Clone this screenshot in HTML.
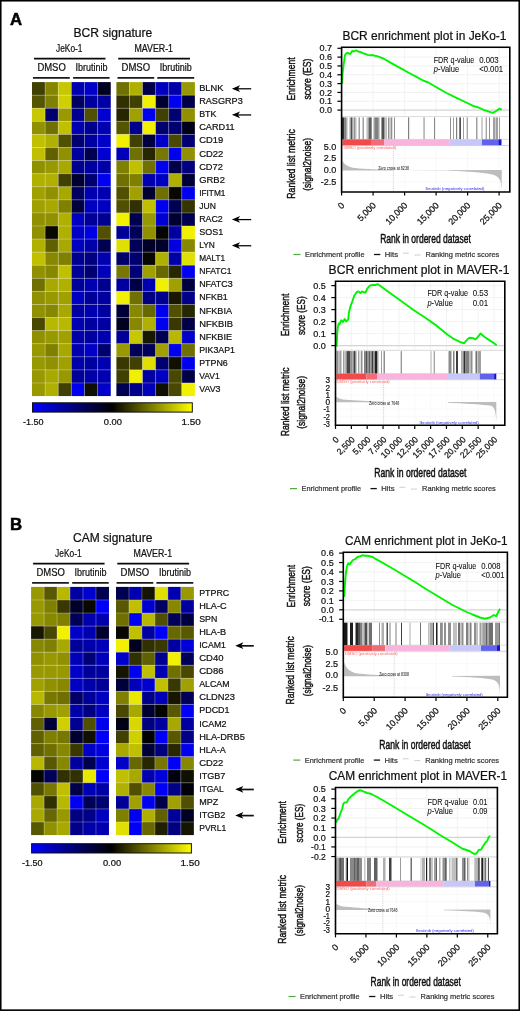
<!DOCTYPE html>
<html><head><meta charset="utf-8"><title>figure</title>
<style>html,body{margin:0;padding:0;background:#fff;width:520px;height:1011px;overflow:hidden;}text{font-family:"Liberation Sans", sans-serif;}</style>
</head><body>
<svg width="520" height="1011" viewBox="0 0 520 1011" style="display:block;will-change:transform;font-family:'Liberation Sans', sans-serif">
<rect x="0.00" y="0.00" width="520.00" height="1011.00" fill="#fff"/>
<defs><filter id="hb" x="-0.05" y="0" width="1.1" height="1" color-interpolation-filters="sRGB"><feGaussianBlur stdDeviation="0.55 0"/></filter></defs>
<text x="10.10" y="24.70" font-size="16.8" fill="#000" stroke="#000" stroke-width="0.5" font-weight="bold">A</text>
<text x="73.50" y="37.00" font-size="12" fill="#111" stroke="#111" stroke-width="0.22" textLength="78.80" lengthAdjust="spacingAndGlyphs">BCR signature</text>
<text x="56.00" y="52.10" font-size="10" fill="#111" stroke="#111" stroke-width="0.22" textLength="26.50" lengthAdjust="spacingAndGlyphs">JeKo-1</text>
<text x="134.50" y="52.10" font-size="10" fill="#111" stroke="#111" stroke-width="0.22" textLength="38.50" lengthAdjust="spacingAndGlyphs">MAVER-1</text>
<line x1="34.00" y1="58.65" x2="105.50" y2="58.65" stroke="#0a0a0a" stroke-width="1.6"/>
<line x1="118.20" y1="58.65" x2="190.00" y2="58.65" stroke="#0a0a0a" stroke-width="1.6"/>
<text x="37.40" y="71.30" font-size="10" fill="#111" stroke="#111" stroke-width="0.22" textLength="28.40" lengthAdjust="spacingAndGlyphs">DMSO</text>
<text x="75.50" y="71.30" font-size="10" fill="#111" stroke="#111" stroke-width="0.22" textLength="32.00" lengthAdjust="spacingAndGlyphs">Ibrutinib</text>
<text x="121.50" y="71.30" font-size="10" fill="#111" stroke="#111" stroke-width="0.22" textLength="28.60" lengthAdjust="spacingAndGlyphs">DMSO</text>
<text x="159.80" y="71.30" font-size="10" fill="#111" stroke="#111" stroke-width="0.22" textLength="32.00" lengthAdjust="spacingAndGlyphs">Ibrutinib</text>
<line x1="33.00" y1="77.95" x2="69.80" y2="77.95" stroke="#1a1a1a" stroke-width="1.7"/>
<line x1="73.10" y1="77.95" x2="109.60" y2="77.95" stroke="#1a1a1a" stroke-width="1.7"/>
<line x1="117.50" y1="77.95" x2="154.20" y2="77.95" stroke="#1a1a1a" stroke-width="1.7"/>
<line x1="157.30" y1="77.95" x2="194.20" y2="77.95" stroke="#1a1a1a" stroke-width="1.7"/>
<rect x="32.00" y="82.10" width="13.17" height="13.13" fill="rgb(64,64,0)"/>
<rect x="45.12" y="82.10" width="13.17" height="13.13" fill="rgb(133,133,0)"/>
<rect x="58.24" y="82.10" width="13.17" height="13.13" fill="rgb(200,200,0)"/>
<rect x="71.36" y="82.10" width="13.17" height="13.13" fill="rgb(0,0,176)"/>
<rect x="84.48" y="82.10" width="13.17" height="13.13" fill="rgb(0,0,200)"/>
<rect x="97.60" y="82.10" width="13.17" height="13.13" fill="rgb(0,0,32)"/>
<rect x="32.00" y="95.18" width="13.17" height="13.13" fill="rgb(85,85,0)"/>
<rect x="45.12" y="95.18" width="13.17" height="13.13" fill="rgb(128,128,0)"/>
<rect x="58.24" y="95.18" width="13.17" height="13.13" fill="rgb(208,208,0)"/>
<rect x="71.36" y="95.18" width="13.17" height="13.13" fill="rgb(0,0,96)"/>
<rect x="84.48" y="95.18" width="13.17" height="13.13" fill="rgb(0,0,160)"/>
<rect x="97.60" y="95.18" width="13.17" height="13.13" fill="rgb(0,0,160)"/>
<rect x="32.00" y="108.26" width="13.17" height="13.13" fill="rgb(200,200,0)"/>
<rect x="45.12" y="108.26" width="13.17" height="13.13" fill="rgb(0,0,112)"/>
<rect x="58.24" y="108.26" width="13.17" height="13.13" fill="rgb(154,154,0)"/>
<rect x="71.36" y="108.26" width="13.17" height="13.13" fill="rgb(0,0,144)"/>
<rect x="84.48" y="108.26" width="13.17" height="13.13" fill="rgb(80,80,0)"/>
<rect x="97.60" y="108.26" width="13.17" height="13.13" fill="rgb(0,0,208)"/>
<rect x="32.00" y="121.34" width="13.17" height="13.13" fill="rgb(144,144,0)"/>
<rect x="45.12" y="121.34" width="13.17" height="13.13" fill="rgb(112,112,0)"/>
<rect x="58.24" y="121.34" width="13.17" height="13.13" fill="rgb(192,192,0)"/>
<rect x="71.36" y="121.34" width="13.17" height="13.13" fill="rgb(0,0,176)"/>
<rect x="84.48" y="121.34" width="13.17" height="13.13" fill="rgb(0,0,144)"/>
<rect x="97.60" y="121.34" width="13.17" height="13.13" fill="rgb(0,0,176)"/>
<rect x="32.00" y="134.42" width="13.17" height="13.13" fill="rgb(192,192,0)"/>
<rect x="45.12" y="134.42" width="13.17" height="13.13" fill="rgb(176,176,0)"/>
<rect x="58.24" y="134.42" width="13.17" height="13.13" fill="rgb(80,80,0)"/>
<rect x="71.36" y="134.42" width="13.17" height="13.13" fill="rgb(0,0,112)"/>
<rect x="84.48" y="134.42" width="13.17" height="13.13" fill="rgb(0,0,160)"/>
<rect x="97.60" y="134.42" width="13.17" height="13.13" fill="rgb(0,0,200)"/>
<rect x="32.00" y="147.50" width="13.17" height="13.13" fill="rgb(192,192,0)"/>
<rect x="45.12" y="147.50" width="13.17" height="13.13" fill="rgb(96,96,0)"/>
<rect x="58.24" y="147.50" width="13.17" height="13.13" fill="rgb(144,144,0)"/>
<rect x="71.36" y="147.50" width="13.17" height="13.13" fill="rgb(0,0,160)"/>
<rect x="84.48" y="147.50" width="13.17" height="13.13" fill="rgb(0,0,80)"/>
<rect x="97.60" y="147.50" width="13.17" height="13.13" fill="rgb(0,0,208)"/>
<rect x="32.00" y="160.58" width="13.17" height="13.13" fill="rgb(144,144,0)"/>
<rect x="45.12" y="160.58" width="13.17" height="13.13" fill="rgb(152,152,0)"/>
<rect x="58.24" y="160.58" width="13.17" height="13.13" fill="rgb(168,168,0)"/>
<rect x="71.36" y="160.58" width="13.17" height="13.13" fill="rgb(0,0,144)"/>
<rect x="84.48" y="160.58" width="13.17" height="13.13" fill="rgb(0,0,160)"/>
<rect x="97.60" y="160.58" width="13.17" height="13.13" fill="rgb(0,0,168)"/>
<rect x="32.00" y="173.66" width="13.17" height="13.13" fill="rgb(176,176,0)"/>
<rect x="45.12" y="173.66" width="13.17" height="13.13" fill="rgb(176,176,0)"/>
<rect x="58.24" y="173.66" width="13.17" height="13.13" fill="rgb(64,64,0)"/>
<rect x="71.36" y="173.66" width="13.17" height="13.13" fill="rgb(0,0,48)"/>
<rect x="84.48" y="173.66" width="13.17" height="13.13" fill="rgb(0,0,112)"/>
<rect x="97.60" y="173.66" width="13.17" height="13.13" fill="rgb(0,0,240)"/>
<rect x="32.00" y="186.74" width="13.17" height="13.13" fill="rgb(160,160,0)"/>
<rect x="45.12" y="186.74" width="13.17" height="13.13" fill="rgb(144,144,0)"/>
<rect x="58.24" y="186.74" width="13.17" height="13.13" fill="rgb(168,168,0)"/>
<rect x="71.36" y="186.74" width="13.17" height="13.13" fill="rgb(0,0,96)"/>
<rect x="84.48" y="186.74" width="13.17" height="13.13" fill="rgb(0,0,176)"/>
<rect x="97.60" y="186.74" width="13.17" height="13.13" fill="rgb(0,0,176)"/>
<rect x="32.00" y="199.82" width="13.17" height="13.13" fill="rgb(160,160,0)"/>
<rect x="45.12" y="199.82" width="13.17" height="13.13" fill="rgb(168,168,0)"/>
<rect x="58.24" y="199.82" width="13.17" height="13.13" fill="rgb(128,128,0)"/>
<rect x="71.36" y="199.82" width="13.17" height="13.13" fill="rgb(0,0,64)"/>
<rect x="84.48" y="199.82" width="13.17" height="13.13" fill="rgb(0,0,192)"/>
<rect x="97.60" y="199.82" width="13.17" height="13.13" fill="rgb(0,0,192)"/>
<rect x="32.00" y="212.90" width="13.17" height="13.13" fill="rgb(144,144,0)"/>
<rect x="45.12" y="212.90" width="13.17" height="13.13" fill="rgb(144,144,0)"/>
<rect x="58.24" y="212.90" width="13.17" height="13.13" fill="rgb(176,176,0)"/>
<rect x="71.36" y="212.90" width="13.17" height="13.13" fill="rgb(0,0,192)"/>
<rect x="84.48" y="212.90" width="13.17" height="13.13" fill="rgb(0,0,152)"/>
<rect x="97.60" y="212.90" width="13.17" height="13.13" fill="rgb(0,0,144)"/>
<rect x="32.00" y="225.98" width="13.17" height="13.13" fill="rgb(144,144,0)"/>
<rect x="45.12" y="225.98" width="13.17" height="13.13" fill="rgb(8,8,0)"/>
<rect x="58.24" y="225.98" width="13.17" height="13.13" fill="rgb(176,176,0)"/>
<rect x="71.36" y="225.98" width="13.17" height="13.13" fill="rgb(0,0,200)"/>
<rect x="84.48" y="225.98" width="13.17" height="13.13" fill="rgb(0,0,224)"/>
<rect x="97.60" y="225.98" width="13.17" height="13.13" fill="rgb(80,80,0)"/>
<rect x="32.00" y="239.06" width="13.17" height="13.13" fill="rgb(176,176,0)"/>
<rect x="45.12" y="239.06" width="13.17" height="13.13" fill="rgb(96,96,0)"/>
<rect x="58.24" y="239.06" width="13.17" height="13.13" fill="rgb(168,168,0)"/>
<rect x="71.36" y="239.06" width="13.17" height="13.13" fill="rgb(0,0,192)"/>
<rect x="84.48" y="239.06" width="13.17" height="13.13" fill="rgb(0,0,168)"/>
<rect x="97.60" y="239.06" width="13.17" height="13.13" fill="rgb(0,0,80)"/>
<rect x="32.00" y="252.14" width="13.17" height="13.13" fill="rgb(192,192,0)"/>
<rect x="45.12" y="252.14" width="13.17" height="13.13" fill="rgb(136,136,0)"/>
<rect x="58.24" y="252.14" width="13.17" height="13.13" fill="rgb(128,128,0)"/>
<rect x="71.36" y="252.14" width="13.17" height="13.13" fill="rgb(0,0,144)"/>
<rect x="84.48" y="252.14" width="13.17" height="13.13" fill="rgb(0,0,128)"/>
<rect x="97.60" y="252.14" width="13.17" height="13.13" fill="rgb(0,0,176)"/>
<rect x="32.00" y="265.22" width="13.17" height="13.13" fill="rgb(144,144,0)"/>
<rect x="45.12" y="265.22" width="13.17" height="13.13" fill="rgb(136,136,0)"/>
<rect x="58.24" y="265.22" width="13.17" height="13.13" fill="rgb(192,192,0)"/>
<rect x="71.36" y="265.22" width="13.17" height="13.13" fill="rgb(0,0,152)"/>
<rect x="84.48" y="265.22" width="13.17" height="13.13" fill="rgb(0,0,112)"/>
<rect x="97.60" y="265.22" width="13.17" height="13.13" fill="rgb(0,0,184)"/>
<rect x="32.00" y="278.30" width="13.17" height="13.13" fill="rgb(112,112,0)"/>
<rect x="45.12" y="278.30" width="13.17" height="13.13" fill="rgb(168,168,0)"/>
<rect x="58.24" y="278.30" width="13.17" height="13.13" fill="rgb(176,176,0)"/>
<rect x="71.36" y="278.30" width="13.17" height="13.13" fill="rgb(0,0,152)"/>
<rect x="84.48" y="278.30" width="13.17" height="13.13" fill="rgb(0,0,176)"/>
<rect x="97.60" y="278.30" width="13.17" height="13.13" fill="rgb(0,0,144)"/>
<rect x="32.00" y="291.38" width="13.17" height="13.13" fill="rgb(144,144,0)"/>
<rect x="45.12" y="291.38" width="13.17" height="13.13" fill="rgb(152,152,0)"/>
<rect x="58.24" y="291.38" width="13.17" height="13.13" fill="rgb(160,160,0)"/>
<rect x="71.36" y="291.38" width="13.17" height="13.13" fill="rgb(0,0,192)"/>
<rect x="84.48" y="291.38" width="13.17" height="13.13" fill="rgb(0,0,152)"/>
<rect x="97.60" y="291.38" width="13.17" height="13.13" fill="rgb(0,0,160)"/>
<rect x="32.00" y="304.46" width="13.17" height="13.13" fill="rgb(144,144,0)"/>
<rect x="45.12" y="304.46" width="13.17" height="13.13" fill="rgb(136,136,0)"/>
<rect x="58.24" y="304.46" width="13.17" height="13.13" fill="rgb(168,168,0)"/>
<rect x="71.36" y="304.46" width="13.17" height="13.13" fill="rgb(0,0,160)"/>
<rect x="84.48" y="304.46" width="13.17" height="13.13" fill="rgb(0,0,176)"/>
<rect x="97.60" y="304.46" width="13.17" height="13.13" fill="rgb(0,0,160)"/>
<rect x="32.00" y="317.54" width="13.17" height="13.13" fill="rgb(72,72,0)"/>
<rect x="45.12" y="317.54" width="13.17" height="13.13" fill="rgb(184,184,0)"/>
<rect x="58.24" y="317.54" width="13.17" height="13.13" fill="rgb(184,184,0)"/>
<rect x="71.36" y="317.54" width="13.17" height="13.13" fill="rgb(0,0,176)"/>
<rect x="84.48" y="317.54" width="13.17" height="13.13" fill="rgb(0,0,160)"/>
<rect x="97.60" y="317.54" width="13.17" height="13.13" fill="rgb(0,0,160)"/>
<rect x="32.00" y="330.62" width="13.17" height="13.13" fill="rgb(144,144,0)"/>
<rect x="45.12" y="330.62" width="13.17" height="13.13" fill="rgb(152,152,0)"/>
<rect x="58.24" y="330.62" width="13.17" height="13.13" fill="rgb(160,160,0)"/>
<rect x="71.36" y="330.62" width="13.17" height="13.13" fill="rgb(0,0,168)"/>
<rect x="84.48" y="330.62" width="13.17" height="13.13" fill="rgb(0,0,160)"/>
<rect x="97.60" y="330.62" width="13.17" height="13.13" fill="rgb(0,0,176)"/>
<rect x="32.00" y="343.70" width="13.17" height="13.13" fill="rgb(152,152,0)"/>
<rect x="45.12" y="343.70" width="13.17" height="13.13" fill="rgb(128,128,0)"/>
<rect x="58.24" y="343.70" width="13.17" height="13.13" fill="rgb(168,168,0)"/>
<rect x="71.36" y="343.70" width="13.17" height="13.13" fill="rgb(0,0,176)"/>
<rect x="84.48" y="343.70" width="13.17" height="13.13" fill="rgb(0,0,200)"/>
<rect x="97.60" y="343.70" width="13.17" height="13.13" fill="rgb(0,0,112)"/>
<rect x="32.00" y="356.78" width="13.17" height="13.13" fill="rgb(152,152,0)"/>
<rect x="45.12" y="356.78" width="13.17" height="13.13" fill="rgb(144,144,0)"/>
<rect x="58.24" y="356.78" width="13.17" height="13.13" fill="rgb(160,160,0)"/>
<rect x="71.36" y="356.78" width="13.17" height="13.13" fill="rgb(0,0,168)"/>
<rect x="84.48" y="356.78" width="13.17" height="13.13" fill="rgb(0,0,160)"/>
<rect x="97.60" y="356.78" width="13.17" height="13.13" fill="rgb(0,0,176)"/>
<rect x="32.00" y="369.86" width="13.17" height="13.13" fill="rgb(152,152,0)"/>
<rect x="45.12" y="369.86" width="13.17" height="13.13" fill="rgb(168,168,0)"/>
<rect x="58.24" y="369.86" width="13.17" height="13.13" fill="rgb(152,152,0)"/>
<rect x="71.36" y="369.86" width="13.17" height="13.13" fill="rgb(0,0,152)"/>
<rect x="84.48" y="369.86" width="13.17" height="13.13" fill="rgb(0,0,168)"/>
<rect x="97.60" y="369.86" width="13.17" height="13.13" fill="rgb(0,0,176)"/>
<rect x="32.00" y="382.94" width="13.17" height="13.13" fill="rgb(152,152,0)"/>
<rect x="45.12" y="382.94" width="13.17" height="13.13" fill="rgb(176,176,0)"/>
<rect x="58.24" y="382.94" width="13.17" height="13.13" fill="rgb(64,64,0)"/>
<rect x="71.36" y="382.94" width="13.17" height="13.13" fill="rgb(0,0,240)"/>
<rect x="84.48" y="382.94" width="13.17" height="13.13" fill="rgb(16,16,0)"/>
<rect x="97.60" y="382.94" width="13.17" height="13.13" fill="rgb(0,0,200)"/>
<line x1="45.12" y1="82.10" x2="45.12" y2="396.02" stroke="rgba(255,255,255,0.35)" stroke-width="0.8"/>
<line x1="58.24" y1="82.10" x2="58.24" y2="396.02" stroke="rgba(255,255,255,0.35)" stroke-width="0.8"/>
<line x1="71.36" y1="82.10" x2="71.36" y2="396.02" stroke="rgba(255,255,255,0.35)" stroke-width="0.8"/>
<line x1="84.48" y1="82.10" x2="84.48" y2="396.02" stroke="rgba(255,255,255,0.35)" stroke-width="0.8"/>
<line x1="97.60" y1="82.10" x2="97.60" y2="396.02" stroke="rgba(255,255,255,0.35)" stroke-width="0.8"/>
<line x1="32.00" y1="95.18" x2="110.72" y2="95.18" stroke="rgba(255,255,255,0.35)" stroke-width="0.8"/>
<line x1="32.00" y1="108.26" x2="110.72" y2="108.26" stroke="rgba(255,255,255,0.35)" stroke-width="0.8"/>
<line x1="32.00" y1="121.34" x2="110.72" y2="121.34" stroke="rgba(255,255,255,0.35)" stroke-width="0.8"/>
<line x1="32.00" y1="134.42" x2="110.72" y2="134.42" stroke="rgba(255,255,255,0.35)" stroke-width="0.8"/>
<line x1="32.00" y1="147.50" x2="110.72" y2="147.50" stroke="rgba(255,255,255,0.35)" stroke-width="0.8"/>
<line x1="32.00" y1="160.58" x2="110.72" y2="160.58" stroke="rgba(255,255,255,0.35)" stroke-width="0.8"/>
<line x1="32.00" y1="173.66" x2="110.72" y2="173.66" stroke="rgba(255,255,255,0.35)" stroke-width="0.8"/>
<line x1="32.00" y1="186.74" x2="110.72" y2="186.74" stroke="rgba(255,255,255,0.35)" stroke-width="0.8"/>
<line x1="32.00" y1="199.82" x2="110.72" y2="199.82" stroke="rgba(255,255,255,0.35)" stroke-width="0.8"/>
<line x1="32.00" y1="212.90" x2="110.72" y2="212.90" stroke="rgba(255,255,255,0.35)" stroke-width="0.8"/>
<line x1="32.00" y1="225.98" x2="110.72" y2="225.98" stroke="rgba(255,255,255,0.35)" stroke-width="0.8"/>
<line x1="32.00" y1="239.06" x2="110.72" y2="239.06" stroke="rgba(255,255,255,0.35)" stroke-width="0.8"/>
<line x1="32.00" y1="252.14" x2="110.72" y2="252.14" stroke="rgba(255,255,255,0.35)" stroke-width="0.8"/>
<line x1="32.00" y1="265.22" x2="110.72" y2="265.22" stroke="rgba(255,255,255,0.35)" stroke-width="0.8"/>
<line x1="32.00" y1="278.30" x2="110.72" y2="278.30" stroke="rgba(255,255,255,0.35)" stroke-width="0.8"/>
<line x1="32.00" y1="291.38" x2="110.72" y2="291.38" stroke="rgba(255,255,255,0.35)" stroke-width="0.8"/>
<line x1="32.00" y1="304.46" x2="110.72" y2="304.46" stroke="rgba(255,255,255,0.35)" stroke-width="0.8"/>
<line x1="32.00" y1="317.54" x2="110.72" y2="317.54" stroke="rgba(255,255,255,0.35)" stroke-width="0.8"/>
<line x1="32.00" y1="330.62" x2="110.72" y2="330.62" stroke="rgba(255,255,255,0.35)" stroke-width="0.8"/>
<line x1="32.00" y1="343.70" x2="110.72" y2="343.70" stroke="rgba(255,255,255,0.35)" stroke-width="0.8"/>
<line x1="32.00" y1="356.78" x2="110.72" y2="356.78" stroke="rgba(255,255,255,0.35)" stroke-width="0.8"/>
<line x1="32.00" y1="369.86" x2="110.72" y2="369.86" stroke="rgba(255,255,255,0.35)" stroke-width="0.8"/>
<line x1="32.00" y1="382.94" x2="110.72" y2="382.94" stroke="rgba(255,255,255,0.35)" stroke-width="0.8"/>
<rect x="116.40" y="82.10" width="13.12" height="13.13" fill="rgb(112,112,0)"/>
<rect x="129.47" y="82.10" width="13.12" height="13.13" fill="rgb(176,176,0)"/>
<rect x="142.54" y="82.10" width="13.12" height="13.13" fill="rgb(0,0,72)"/>
<rect x="155.61" y="82.10" width="13.12" height="13.13" fill="rgb(0,0,192)"/>
<rect x="168.68" y="82.10" width="13.12" height="13.13" fill="rgb(0,0,168)"/>
<rect x="181.75" y="82.10" width="13.12" height="13.13" fill="rgb(152,152,0)"/>
<rect x="116.40" y="95.18" width="13.12" height="13.13" fill="rgb(48,48,0)"/>
<rect x="129.47" y="95.18" width="13.12" height="13.13" fill="rgb(64,64,0)"/>
<rect x="142.54" y="95.18" width="13.12" height="13.13" fill="rgb(240,240,0)"/>
<rect x="155.61" y="95.18" width="13.12" height="13.13" fill="rgb(0,0,48)"/>
<rect x="168.68" y="95.18" width="13.12" height="13.13" fill="rgb(0,0,240)"/>
<rect x="181.75" y="95.18" width="13.12" height="13.13" fill="rgb(0,0,72)"/>
<rect x="116.40" y="108.26" width="13.12" height="13.13" fill="rgb(37,37,0)"/>
<rect x="129.47" y="108.26" width="13.12" height="13.13" fill="rgb(160,160,0)"/>
<rect x="142.54" y="108.26" width="13.12" height="13.13" fill="rgb(0,0,240)"/>
<rect x="155.61" y="108.26" width="13.12" height="13.13" fill="rgb(64,64,0)"/>
<rect x="168.68" y="108.26" width="13.12" height="13.13" fill="rgb(0,0,112)"/>
<rect x="181.75" y="108.26" width="13.12" height="13.13" fill="rgb(144,144,0)"/>
<rect x="116.40" y="121.34" width="13.12" height="13.13" fill="rgb(85,85,0)"/>
<rect x="129.47" y="121.34" width="13.12" height="13.13" fill="rgb(0,0,144)"/>
<rect x="142.54" y="121.34" width="13.12" height="13.13" fill="rgb(240,240,0)"/>
<rect x="155.61" y="121.34" width="13.12" height="13.13" fill="rgb(0,0,112)"/>
<rect x="168.68" y="121.34" width="13.12" height="13.13" fill="rgb(0,0,112)"/>
<rect x="181.75" y="121.34" width="13.12" height="13.13" fill="rgb(0,0,24)"/>
<rect x="116.40" y="134.42" width="13.12" height="13.13" fill="rgb(240,240,0)"/>
<rect x="129.47" y="134.42" width="13.12" height="13.13" fill="rgb(64,64,0)"/>
<rect x="142.54" y="134.42" width="13.12" height="13.13" fill="rgb(0,0,64)"/>
<rect x="155.61" y="134.42" width="13.12" height="13.13" fill="rgb(0,0,200)"/>
<rect x="168.68" y="134.42" width="13.12" height="13.13" fill="rgb(72,72,0)"/>
<rect x="181.75" y="134.42" width="13.12" height="13.13" fill="rgb(0,0,112)"/>
<rect x="116.40" y="147.50" width="13.12" height="13.13" fill="rgb(0,0,184)"/>
<rect x="129.47" y="147.50" width="13.12" height="13.13" fill="rgb(112,112,0)"/>
<rect x="142.54" y="147.50" width="13.12" height="13.13" fill="rgb(40,40,0)"/>
<rect x="155.61" y="147.50" width="13.12" height="13.13" fill="rgb(120,120,0)"/>
<rect x="168.68" y="147.50" width="13.12" height="13.13" fill="rgb(0,0,240)"/>
<rect x="181.75" y="147.50" width="13.12" height="13.13" fill="rgb(144,144,0)"/>
<rect x="116.40" y="160.58" width="13.12" height="13.13" fill="rgb(128,128,0)"/>
<rect x="129.47" y="160.58" width="13.12" height="13.13" fill="rgb(192,192,0)"/>
<rect x="142.54" y="160.58" width="13.12" height="13.13" fill="rgb(112,112,0)"/>
<rect x="155.61" y="160.58" width="13.12" height="13.13" fill="rgb(0,0,240)"/>
<rect x="168.68" y="160.58" width="13.12" height="13.13" fill="rgb(0,0,72)"/>
<rect x="181.75" y="160.58" width="13.12" height="13.13" fill="rgb(0,0,128)"/>
<rect x="116.40" y="173.66" width="13.12" height="13.13" fill="rgb(112,112,0)"/>
<rect x="129.47" y="173.66" width="13.12" height="13.13" fill="rgb(128,128,0)"/>
<rect x="142.54" y="173.66" width="13.12" height="13.13" fill="rgb(0,0,176)"/>
<rect x="155.61" y="173.66" width="13.12" height="13.13" fill="rgb(0,0,192)"/>
<rect x="168.68" y="173.66" width="13.12" height="13.13" fill="rgb(176,176,0)"/>
<rect x="181.75" y="173.66" width="13.12" height="13.13" fill="rgb(0,0,56)"/>
<rect x="116.40" y="186.74" width="13.12" height="13.13" fill="rgb(80,80,0)"/>
<rect x="129.47" y="186.74" width="13.12" height="13.13" fill="rgb(160,160,0)"/>
<rect x="142.54" y="186.74" width="13.12" height="13.13" fill="rgb(0,0,48)"/>
<rect x="155.61" y="186.74" width="13.12" height="13.13" fill="rgb(112,112,0)"/>
<rect x="168.68" y="186.74" width="13.12" height="13.13" fill="rgb(8,8,0)"/>
<rect x="181.75" y="186.74" width="13.12" height="13.13" fill="rgb(0,0,240)"/>
<rect x="116.40" y="199.82" width="13.12" height="13.13" fill="rgb(80,80,0)"/>
<rect x="129.47" y="199.82" width="13.12" height="13.13" fill="rgb(48,48,0)"/>
<rect x="142.54" y="199.82" width="13.12" height="13.13" fill="rgb(192,192,0)"/>
<rect x="155.61" y="199.82" width="13.12" height="13.13" fill="rgb(0,0,240)"/>
<rect x="168.68" y="199.82" width="13.12" height="13.13" fill="rgb(0,0,80)"/>
<rect x="181.75" y="199.82" width="13.12" height="13.13" fill="rgb(53,53,0)"/>
<rect x="116.40" y="212.90" width="13.12" height="13.13" fill="rgb(240,240,0)"/>
<rect x="129.47" y="212.90" width="13.12" height="13.13" fill="rgb(0,0,80)"/>
<rect x="142.54" y="212.90" width="13.12" height="13.13" fill="rgb(152,152,0)"/>
<rect x="155.61" y="212.90" width="13.12" height="13.13" fill="rgb(0,0,208)"/>
<rect x="168.68" y="212.90" width="13.12" height="13.13" fill="rgb(0,0,48)"/>
<rect x="181.75" y="212.90" width="13.12" height="13.13" fill="rgb(0,0,80)"/>
<rect x="116.40" y="225.98" width="13.12" height="13.13" fill="rgb(0,0,152)"/>
<rect x="129.47" y="225.98" width="13.12" height="13.13" fill="rgb(0,0,88)"/>
<rect x="142.54" y="225.98" width="13.12" height="13.13" fill="rgb(144,144,0)"/>
<rect x="155.61" y="225.98" width="13.12" height="13.13" fill="rgb(5,5,0)"/>
<rect x="168.68" y="225.98" width="13.12" height="13.13" fill="rgb(0,0,160)"/>
<rect x="181.75" y="225.98" width="13.12" height="13.13" fill="rgb(240,240,0)"/>
<rect x="116.40" y="239.06" width="13.12" height="13.13" fill="rgb(224,224,0)"/>
<rect x="129.47" y="239.06" width="13.12" height="13.13" fill="rgb(0,0,88)"/>
<rect x="142.54" y="239.06" width="13.12" height="13.13" fill="rgb(0,0,40)"/>
<rect x="155.61" y="239.06" width="13.12" height="13.13" fill="rgb(0,0,40)"/>
<rect x="168.68" y="239.06" width="13.12" height="13.13" fill="rgb(0,0,224)"/>
<rect x="181.75" y="239.06" width="13.12" height="13.13" fill="rgb(136,136,0)"/>
<rect x="116.40" y="252.14" width="13.12" height="13.13" fill="rgb(0,0,104)"/>
<rect x="129.47" y="252.14" width="13.12" height="13.13" fill="rgb(0,0,112)"/>
<rect x="142.54" y="252.14" width="13.12" height="13.13" fill="rgb(8,8,0)"/>
<rect x="155.61" y="252.14" width="13.12" height="13.13" fill="rgb(176,176,0)"/>
<rect x="168.68" y="252.14" width="13.12" height="13.13" fill="rgb(0,0,168)"/>
<rect x="181.75" y="252.14" width="13.12" height="13.13" fill="rgb(224,224,0)"/>
<rect x="116.40" y="265.22" width="13.12" height="13.13" fill="rgb(120,120,0)"/>
<rect x="129.47" y="265.22" width="13.12" height="13.13" fill="rgb(0,0,120)"/>
<rect x="142.54" y="265.22" width="13.12" height="13.13" fill="rgb(160,160,0)"/>
<rect x="155.61" y="265.22" width="13.12" height="13.13" fill="rgb(104,104,0)"/>
<rect x="168.68" y="265.22" width="13.12" height="13.13" fill="rgb(40,40,0)"/>
<rect x="181.75" y="265.22" width="13.12" height="13.13" fill="rgb(0,0,240)"/>
<rect x="116.40" y="278.30" width="13.12" height="13.13" fill="rgb(0,0,160)"/>
<rect x="129.47" y="278.30" width="13.12" height="13.13" fill="rgb(0,0,72)"/>
<rect x="142.54" y="278.30" width="13.12" height="13.13" fill="rgb(0,0,176)"/>
<rect x="155.61" y="278.30" width="13.12" height="13.13" fill="rgb(240,240,0)"/>
<rect x="168.68" y="278.30" width="13.12" height="13.13" fill="rgb(160,160,0)"/>
<rect x="181.75" y="278.30" width="13.12" height="13.13" fill="rgb(0,0,64)"/>
<rect x="116.40" y="291.38" width="13.12" height="13.13" fill="rgb(240,240,0)"/>
<rect x="129.47" y="291.38" width="13.12" height="13.13" fill="rgb(112,112,0)"/>
<rect x="142.54" y="291.38" width="13.12" height="13.13" fill="rgb(0,0,128)"/>
<rect x="155.61" y="291.38" width="13.12" height="13.13" fill="rgb(0,0,144)"/>
<rect x="168.68" y="291.38" width="13.12" height="13.13" fill="rgb(24,24,0)"/>
<rect x="181.75" y="291.38" width="13.12" height="13.13" fill="rgb(0,0,136)"/>
<rect x="116.40" y="304.46" width="13.12" height="13.13" fill="rgb(0,0,56)"/>
<rect x="129.47" y="304.46" width="13.12" height="13.13" fill="rgb(136,136,0)"/>
<rect x="142.54" y="304.46" width="13.12" height="13.13" fill="rgb(104,104,0)"/>
<rect x="155.61" y="304.46" width="13.12" height="13.13" fill="rgb(0,0,240)"/>
<rect x="168.68" y="304.46" width="13.12" height="13.13" fill="rgb(80,80,0)"/>
<rect x="181.75" y="304.46" width="13.12" height="13.13" fill="rgb(40,40,0)"/>
<rect x="116.40" y="317.54" width="13.12" height="13.13" fill="rgb(0,0,32)"/>
<rect x="129.47" y="317.54" width="13.12" height="13.13" fill="rgb(136,136,0)"/>
<rect x="142.54" y="317.54" width="13.12" height="13.13" fill="rgb(176,176,0)"/>
<rect x="155.61" y="317.54" width="13.12" height="13.13" fill="rgb(0,0,240)"/>
<rect x="168.68" y="317.54" width="13.12" height="13.13" fill="rgb(56,56,0)"/>
<rect x="181.75" y="317.54" width="13.12" height="13.13" fill="rgb(0,0,72)"/>
<rect x="116.40" y="330.62" width="13.12" height="13.13" fill="rgb(0,0,152)"/>
<rect x="129.47" y="330.62" width="13.12" height="13.13" fill="rgb(200,200,0)"/>
<rect x="142.54" y="330.62" width="13.12" height="13.13" fill="rgb(24,24,0)"/>
<rect x="155.61" y="330.62" width="13.12" height="13.13" fill="rgb(0,0,80)"/>
<rect x="168.68" y="330.62" width="13.12" height="13.13" fill="rgb(184,184,0)"/>
<rect x="181.75" y="330.62" width="13.12" height="13.13" fill="rgb(0,0,200)"/>
<rect x="116.40" y="343.70" width="13.12" height="13.13" fill="rgb(152,152,0)"/>
<rect x="129.47" y="343.70" width="13.12" height="13.13" fill="rgb(0,0,88)"/>
<rect x="142.54" y="343.70" width="13.12" height="13.13" fill="rgb(0,0,88)"/>
<rect x="155.61" y="343.70" width="13.12" height="13.13" fill="rgb(160,160,0)"/>
<rect x="168.68" y="343.70" width="13.12" height="13.13" fill="rgb(0,0,240)"/>
<rect x="181.75" y="343.70" width="13.12" height="13.13" fill="rgb(112,112,0)"/>
<rect x="116.40" y="356.78" width="13.12" height="13.13" fill="rgb(56,56,0)"/>
<rect x="129.47" y="356.78" width="13.12" height="13.13" fill="rgb(64,64,0)"/>
<rect x="142.54" y="356.78" width="13.12" height="13.13" fill="rgb(224,224,0)"/>
<rect x="155.61" y="356.78" width="13.12" height="13.13" fill="rgb(0,0,112)"/>
<rect x="168.68" y="356.78" width="13.12" height="13.13" fill="rgb(16,16,0)"/>
<rect x="181.75" y="356.78" width="13.12" height="13.13" fill="rgb(0,0,240)"/>
<rect x="116.40" y="369.86" width="13.12" height="13.13" fill="rgb(64,64,0)"/>
<rect x="129.47" y="369.86" width="13.12" height="13.13" fill="rgb(240,240,0)"/>
<rect x="142.54" y="369.86" width="13.12" height="13.13" fill="rgb(0,0,160)"/>
<rect x="155.61" y="369.86" width="13.12" height="13.13" fill="rgb(0,0,192)"/>
<rect x="168.68" y="369.86" width="13.12" height="13.13" fill="rgb(72,72,0)"/>
<rect x="181.75" y="369.86" width="13.12" height="13.13" fill="rgb(0,0,72)"/>
<rect x="116.40" y="382.94" width="13.12" height="13.13" fill="rgb(0,0,80)"/>
<rect x="129.47" y="382.94" width="13.12" height="13.13" fill="rgb(0,0,136)"/>
<rect x="142.54" y="382.94" width="13.12" height="13.13" fill="rgb(0,0,184)"/>
<rect x="155.61" y="382.94" width="13.12" height="13.13" fill="rgb(16,16,0)"/>
<rect x="168.68" y="382.94" width="13.12" height="13.13" fill="rgb(72,72,0)"/>
<rect x="181.75" y="382.94" width="13.12" height="13.13" fill="rgb(240,240,0)"/>
<line x1="129.47" y1="82.10" x2="129.47" y2="396.02" stroke="rgba(255,255,255,0.35)" stroke-width="0.8"/>
<line x1="142.54" y1="82.10" x2="142.54" y2="396.02" stroke="rgba(255,255,255,0.35)" stroke-width="0.8"/>
<line x1="155.61" y1="82.10" x2="155.61" y2="396.02" stroke="rgba(255,255,255,0.35)" stroke-width="0.8"/>
<line x1="168.68" y1="82.10" x2="168.68" y2="396.02" stroke="rgba(255,255,255,0.35)" stroke-width="0.8"/>
<line x1="181.75" y1="82.10" x2="181.75" y2="396.02" stroke="rgba(255,255,255,0.35)" stroke-width="0.8"/>
<line x1="116.40" y1="95.18" x2="194.82" y2="95.18" stroke="rgba(255,255,255,0.35)" stroke-width="0.8"/>
<line x1="116.40" y1="108.26" x2="194.82" y2="108.26" stroke="rgba(255,255,255,0.35)" stroke-width="0.8"/>
<line x1="116.40" y1="121.34" x2="194.82" y2="121.34" stroke="rgba(255,255,255,0.35)" stroke-width="0.8"/>
<line x1="116.40" y1="134.42" x2="194.82" y2="134.42" stroke="rgba(255,255,255,0.35)" stroke-width="0.8"/>
<line x1="116.40" y1="147.50" x2="194.82" y2="147.50" stroke="rgba(255,255,255,0.35)" stroke-width="0.8"/>
<line x1="116.40" y1="160.58" x2="194.82" y2="160.58" stroke="rgba(255,255,255,0.35)" stroke-width="0.8"/>
<line x1="116.40" y1="173.66" x2="194.82" y2="173.66" stroke="rgba(255,255,255,0.35)" stroke-width="0.8"/>
<line x1="116.40" y1="186.74" x2="194.82" y2="186.74" stroke="rgba(255,255,255,0.35)" stroke-width="0.8"/>
<line x1="116.40" y1="199.82" x2="194.82" y2="199.82" stroke="rgba(255,255,255,0.35)" stroke-width="0.8"/>
<line x1="116.40" y1="212.90" x2="194.82" y2="212.90" stroke="rgba(255,255,255,0.35)" stroke-width="0.8"/>
<line x1="116.40" y1="225.98" x2="194.82" y2="225.98" stroke="rgba(255,255,255,0.35)" stroke-width="0.8"/>
<line x1="116.40" y1="239.06" x2="194.82" y2="239.06" stroke="rgba(255,255,255,0.35)" stroke-width="0.8"/>
<line x1="116.40" y1="252.14" x2="194.82" y2="252.14" stroke="rgba(255,255,255,0.35)" stroke-width="0.8"/>
<line x1="116.40" y1="265.22" x2="194.82" y2="265.22" stroke="rgba(255,255,255,0.35)" stroke-width="0.8"/>
<line x1="116.40" y1="278.30" x2="194.82" y2="278.30" stroke="rgba(255,255,255,0.35)" stroke-width="0.8"/>
<line x1="116.40" y1="291.38" x2="194.82" y2="291.38" stroke="rgba(255,255,255,0.35)" stroke-width="0.8"/>
<line x1="116.40" y1="304.46" x2="194.82" y2="304.46" stroke="rgba(255,255,255,0.35)" stroke-width="0.8"/>
<line x1="116.40" y1="317.54" x2="194.82" y2="317.54" stroke="rgba(255,255,255,0.35)" stroke-width="0.8"/>
<line x1="116.40" y1="330.62" x2="194.82" y2="330.62" stroke="rgba(255,255,255,0.35)" stroke-width="0.8"/>
<line x1="116.40" y1="343.70" x2="194.82" y2="343.70" stroke="rgba(255,255,255,0.35)" stroke-width="0.8"/>
<line x1="116.40" y1="356.78" x2="194.82" y2="356.78" stroke="rgba(255,255,255,0.35)" stroke-width="0.8"/>
<line x1="116.40" y1="369.86" x2="194.82" y2="369.86" stroke="rgba(255,255,255,0.35)" stroke-width="0.8"/>
<line x1="116.40" y1="382.94" x2="194.82" y2="382.94" stroke="rgba(255,255,255,0.35)" stroke-width="0.8"/>
<text x="199.20" y="91.14" font-size="9.6" fill="#111" stroke="#111" stroke-width="0.22" textLength="24.20" lengthAdjust="spacingAndGlyphs">BLNK</text>
<line x1="234.90" y1="88.79" x2="251.20" y2="88.79" stroke="#000" stroke-width="1.25"/>
<path d="M231.90,88.64 L240.10,85.24 L237.90,88.64 L240.10,92.04 Z" fill="#000"/>
<text x="199.20" y="104.22" font-size="9.6" fill="#111" stroke="#111" stroke-width="0.22" textLength="43.60" lengthAdjust="spacingAndGlyphs">RASGRP3</text>
<text x="199.20" y="117.30" font-size="9.6" fill="#111" stroke="#111" stroke-width="0.22" textLength="17.20" lengthAdjust="spacingAndGlyphs">BTK</text>
<line x1="234.90" y1="114.95" x2="251.20" y2="114.95" stroke="#000" stroke-width="1.25"/>
<path d="M231.90,114.80 L240.10,111.40 L237.90,114.80 L240.10,118.20 Z" fill="#000"/>
<text x="199.20" y="130.38" font-size="9.6" fill="#111" stroke="#111" stroke-width="0.22" textLength="35.50" lengthAdjust="spacingAndGlyphs">CARD11</text>
<text x="199.20" y="143.46" font-size="9.6" fill="#111" stroke="#111" stroke-width="0.22" textLength="24.00" lengthAdjust="spacingAndGlyphs">CD19</text>
<text x="199.20" y="156.54" font-size="9.6" fill="#111" stroke="#111" stroke-width="0.22" textLength="24.10" lengthAdjust="spacingAndGlyphs">CD22</text>
<text x="199.20" y="169.62" font-size="9.6" fill="#111" stroke="#111" stroke-width="0.22" textLength="23.60" lengthAdjust="spacingAndGlyphs">CD72</text>
<text x="199.20" y="182.70" font-size="9.6" fill="#111" stroke="#111" stroke-width="0.22" textLength="25.70" lengthAdjust="spacingAndGlyphs">GRB2</text>
<text x="199.20" y="195.78" font-size="9.6" fill="#111" stroke="#111" stroke-width="0.22" textLength="26.30" lengthAdjust="spacingAndGlyphs">IFITM1</text>
<text x="199.20" y="208.86" font-size="9.6" fill="#111" stroke="#111" stroke-width="0.22" textLength="16.70" lengthAdjust="spacingAndGlyphs">JUN</text>
<text x="199.20" y="221.94" font-size="9.6" fill="#111" stroke="#111" stroke-width="0.22" textLength="23.60" lengthAdjust="spacingAndGlyphs">RAC2</text>
<line x1="234.90" y1="219.59" x2="251.20" y2="219.59" stroke="#000" stroke-width="1.25"/>
<path d="M231.90,219.44 L240.10,216.04 L237.90,219.44 L240.10,222.84 Z" fill="#000"/>
<text x="199.20" y="235.02" font-size="9.6" fill="#111" stroke="#111" stroke-width="0.22" textLength="24.00" lengthAdjust="spacingAndGlyphs">SOS1</text>
<text x="199.20" y="248.10" font-size="9.6" fill="#111" stroke="#111" stroke-width="0.22" textLength="15.60" lengthAdjust="spacingAndGlyphs">LYN</text>
<line x1="234.90" y1="245.75" x2="251.20" y2="245.75" stroke="#000" stroke-width="1.25"/>
<path d="M231.90,245.60 L240.10,242.20 L237.90,245.60 L240.10,249.00 Z" fill="#000"/>
<text x="199.20" y="261.18" font-size="9.6" fill="#111" stroke="#111" stroke-width="0.22" textLength="25.90" lengthAdjust="spacingAndGlyphs">MALT1</text>
<text x="199.20" y="274.26" font-size="9.6" fill="#111" stroke="#111" stroke-width="0.22" textLength="32.40" lengthAdjust="spacingAndGlyphs">NFATC1</text>
<text x="199.20" y="287.34" font-size="9.6" fill="#111" stroke="#111" stroke-width="0.22" textLength="33.50" lengthAdjust="spacingAndGlyphs">NFATC3</text>
<text x="199.20" y="300.42" font-size="9.6" fill="#111" stroke="#111" stroke-width="0.22" textLength="28.60" lengthAdjust="spacingAndGlyphs">NFKB1</text>
<text x="199.20" y="313.50" font-size="9.6" fill="#111" stroke="#111" stroke-width="0.22" textLength="32.80" lengthAdjust="spacingAndGlyphs">NFKBIA</text>
<text x="199.20" y="326.58" font-size="9.6" fill="#111" stroke="#111" stroke-width="0.22" textLength="33.80" lengthAdjust="spacingAndGlyphs">NFKBIB</text>
<text x="199.20" y="339.66" font-size="9.6" fill="#111" stroke="#111" stroke-width="0.22" textLength="32.80" lengthAdjust="spacingAndGlyphs">NFKBIE</text>
<text x="199.20" y="352.74" font-size="9.6" fill="#111" stroke="#111" stroke-width="0.22" textLength="35.80" lengthAdjust="spacingAndGlyphs">PIK3AP1</text>
<text x="199.20" y="365.82" font-size="9.6" fill="#111" stroke="#111" stroke-width="0.22" textLength="28.60" lengthAdjust="spacingAndGlyphs">PTPN6</text>
<text x="199.20" y="378.90" font-size="9.6" fill="#111" stroke="#111" stroke-width="0.22" textLength="20.50" lengthAdjust="spacingAndGlyphs">VAV1</text>
<text x="199.20" y="391.98" font-size="9.6" fill="#111" stroke="#111" stroke-width="0.22" textLength="21.30" lengthAdjust="spacingAndGlyphs">VAV3</text>
<defs><linearGradient id="cbA" x1="0" x2="1" y1="0" y2="0"><stop offset="0" stop-color="#0000ff"/><stop offset="0.5" stop-color="#000000"/><stop offset="1" stop-color="#ffff00"/></linearGradient></defs>
<rect x="32.50" y="402.80" width="159.8" height="9.3" fill="url(#cbA)" stroke="#111" stroke-width="1"/>
<text x="22.90" y="425.20" font-size="9" fill="#111" stroke="#111" stroke-width="0.22" textLength="20.60" lengthAdjust="spacingAndGlyphs">-1.50</text>
<text x="103.80" y="425.20" font-size="9" fill="#111" stroke="#111" stroke-width="0.22" textLength="18.20" lengthAdjust="spacingAndGlyphs">0.00</text>
<text x="181.50" y="425.20" font-size="9" fill="#111" stroke="#111" stroke-width="0.22" textLength="19.30" lengthAdjust="spacingAndGlyphs">1.50</text>
<text x="10.10" y="529.70" font-size="16.8" fill="#000" stroke="#000" stroke-width="0.5" font-weight="bold">B</text>
<text x="73.00" y="542.00" font-size="12" fill="#111" stroke="#111" stroke-width="0.22" textLength="79.40" lengthAdjust="spacingAndGlyphs">CAM signature</text>
<text x="55.10" y="557.10" font-size="10" fill="#111" stroke="#111" stroke-width="0.22" textLength="26.50" lengthAdjust="spacingAndGlyphs">JeKo-1</text>
<text x="133.60" y="557.10" font-size="10" fill="#111" stroke="#111" stroke-width="0.22" textLength="38.50" lengthAdjust="spacingAndGlyphs">MAVER-1</text>
<line x1="33.10" y1="563.65" x2="104.60" y2="563.65" stroke="#0a0a0a" stroke-width="1.6"/>
<line x1="117.30" y1="563.65" x2="189.10" y2="563.65" stroke="#0a0a0a" stroke-width="1.6"/>
<text x="36.50" y="576.30" font-size="10" fill="#111" stroke="#111" stroke-width="0.22" textLength="28.40" lengthAdjust="spacingAndGlyphs">DMSO</text>
<text x="74.60" y="576.30" font-size="10" fill="#111" stroke="#111" stroke-width="0.22" textLength="32.00" lengthAdjust="spacingAndGlyphs">Ibrutinib</text>
<text x="120.60" y="576.30" font-size="10" fill="#111" stroke="#111" stroke-width="0.22" textLength="28.60" lengthAdjust="spacingAndGlyphs">DMSO</text>
<text x="158.90" y="576.30" font-size="10" fill="#111" stroke="#111" stroke-width="0.22" textLength="32.00" lengthAdjust="spacingAndGlyphs">Ibrutinib</text>
<line x1="32.10" y1="582.95" x2="68.90" y2="582.95" stroke="#1a1a1a" stroke-width="1.7"/>
<line x1="72.20" y1="582.95" x2="108.70" y2="582.95" stroke="#1a1a1a" stroke-width="1.7"/>
<line x1="116.60" y1="582.95" x2="153.30" y2="582.95" stroke="#1a1a1a" stroke-width="1.7"/>
<line x1="156.40" y1="582.95" x2="193.30" y2="582.95" stroke="#1a1a1a" stroke-width="1.7"/>
<rect x="31.10" y="586.90" width="13.02" height="13.11" fill="rgb(152,152,0)"/>
<rect x="44.07" y="586.90" width="13.02" height="13.11" fill="rgb(88,88,0)"/>
<rect x="57.04" y="586.90" width="13.02" height="13.11" fill="rgb(184,184,0)"/>
<rect x="70.01" y="586.90" width="13.02" height="13.11" fill="rgb(0,0,160)"/>
<rect x="82.98" y="586.90" width="13.02" height="13.11" fill="rgb(0,0,208)"/>
<rect x="95.95" y="586.90" width="13.02" height="13.11" fill="rgb(0,0,80)"/>
<rect x="31.10" y="599.96" width="13.02" height="13.11" fill="rgb(152,152,0)"/>
<rect x="44.07" y="599.96" width="13.02" height="13.11" fill="rgb(128,128,0)"/>
<rect x="57.04" y="599.96" width="13.02" height="13.11" fill="rgb(56,56,0)"/>
<rect x="70.01" y="599.96" width="13.02" height="13.11" fill="rgb(0,0,40)"/>
<rect x="82.98" y="599.96" width="13.02" height="13.11" fill="rgb(8,8,0)"/>
<rect x="95.95" y="599.96" width="13.02" height="13.11" fill="rgb(0,0,248)"/>
<rect x="31.10" y="613.02" width="13.02" height="13.11" fill="rgb(152,152,0)"/>
<rect x="44.07" y="613.02" width="13.02" height="13.11" fill="rgb(136,136,0)"/>
<rect x="57.04" y="613.02" width="13.02" height="13.11" fill="rgb(128,128,0)"/>
<rect x="70.01" y="613.02" width="13.02" height="13.11" fill="rgb(0,0,88)"/>
<rect x="82.98" y="613.02" width="13.02" height="13.11" fill="rgb(0,0,176)"/>
<rect x="95.95" y="613.02" width="13.02" height="13.11" fill="rgb(0,0,176)"/>
<rect x="31.10" y="626.08" width="13.02" height="13.11" fill="rgb(24,24,0)"/>
<rect x="44.07" y="626.08" width="13.02" height="13.11" fill="rgb(72,72,0)"/>
<rect x="57.04" y="626.08" width="13.02" height="13.11" fill="rgb(240,240,0)"/>
<rect x="70.01" y="626.08" width="13.02" height="13.11" fill="rgb(0,0,200)"/>
<rect x="82.98" y="626.08" width="13.02" height="13.11" fill="rgb(0,0,176)"/>
<rect x="95.95" y="626.08" width="13.02" height="13.11" fill="rgb(0,0,48)"/>
<rect x="31.10" y="639.14" width="13.02" height="13.11" fill="rgb(136,136,0)"/>
<rect x="44.07" y="639.14" width="13.02" height="13.11" fill="rgb(128,128,0)"/>
<rect x="57.04" y="639.14" width="13.02" height="13.11" fill="rgb(168,168,0)"/>
<rect x="70.01" y="639.14" width="13.02" height="13.11" fill="rgb(0,0,152)"/>
<rect x="82.98" y="639.14" width="13.02" height="13.11" fill="rgb(0,0,168)"/>
<rect x="95.95" y="639.14" width="13.02" height="13.11" fill="rgb(0,0,184)"/>
<rect x="31.10" y="652.20" width="13.02" height="13.11" fill="rgb(144,144,0)"/>
<rect x="44.07" y="652.20" width="13.02" height="13.11" fill="rgb(152,152,0)"/>
<rect x="57.04" y="652.20" width="13.02" height="13.11" fill="rgb(144,144,0)"/>
<rect x="70.01" y="652.20" width="13.02" height="13.11" fill="rgb(0,0,184)"/>
<rect x="82.98" y="652.20" width="13.02" height="13.11" fill="rgb(0,0,120)"/>
<rect x="95.95" y="652.20" width="13.02" height="13.11" fill="rgb(0,0,184)"/>
<rect x="31.10" y="665.26" width="13.02" height="13.11" fill="rgb(152,152,0)"/>
<rect x="44.07" y="665.26" width="13.02" height="13.11" fill="rgb(152,152,0)"/>
<rect x="57.04" y="665.26" width="13.02" height="13.11" fill="rgb(152,152,0)"/>
<rect x="70.01" y="665.26" width="13.02" height="13.11" fill="rgb(0,0,200)"/>
<rect x="82.98" y="665.26" width="13.02" height="13.11" fill="rgb(0,0,152)"/>
<rect x="95.95" y="665.26" width="13.02" height="13.11" fill="rgb(0,0,160)"/>
<rect x="31.10" y="678.32" width="13.02" height="13.11" fill="rgb(160,160,0)"/>
<rect x="44.07" y="678.32" width="13.02" height="13.11" fill="rgb(144,144,0)"/>
<rect x="57.04" y="678.32" width="13.02" height="13.11" fill="rgb(136,136,0)"/>
<rect x="70.01" y="678.32" width="13.02" height="13.11" fill="rgb(0,0,192)"/>
<rect x="82.98" y="678.32" width="13.02" height="13.11" fill="rgb(0,0,168)"/>
<rect x="95.95" y="678.32" width="13.02" height="13.11" fill="rgb(0,0,152)"/>
<rect x="31.10" y="691.38" width="13.02" height="13.11" fill="rgb(184,184,0)"/>
<rect x="44.07" y="691.38" width="13.02" height="13.11" fill="rgb(120,120,0)"/>
<rect x="57.04" y="691.38" width="13.02" height="13.11" fill="rgb(112,112,0)"/>
<rect x="70.01" y="691.38" width="13.02" height="13.11" fill="rgb(0,0,104)"/>
<rect x="82.98" y="691.38" width="13.02" height="13.11" fill="rgb(0,0,152)"/>
<rect x="95.95" y="691.38" width="13.02" height="13.11" fill="rgb(0,0,192)"/>
<rect x="31.10" y="704.44" width="13.02" height="13.11" fill="rgb(136,136,0)"/>
<rect x="44.07" y="704.44" width="13.02" height="13.11" fill="rgb(152,152,0)"/>
<rect x="57.04" y="704.44" width="13.02" height="13.11" fill="rgb(160,160,0)"/>
<rect x="70.01" y="704.44" width="13.02" height="13.11" fill="rgb(0,0,168)"/>
<rect x="82.98" y="704.44" width="13.02" height="13.11" fill="rgb(0,0,128)"/>
<rect x="95.95" y="704.44" width="13.02" height="13.11" fill="rgb(0,0,192)"/>
<rect x="31.10" y="717.50" width="13.02" height="13.11" fill="rgb(96,96,0)"/>
<rect x="44.07" y="717.50" width="13.02" height="13.11" fill="rgb(0,0,56)"/>
<rect x="57.04" y="717.50" width="13.02" height="13.11" fill="rgb(208,208,0)"/>
<rect x="70.01" y="717.50" width="13.02" height="13.11" fill="rgb(0,0,144)"/>
<rect x="82.98" y="717.50" width="13.02" height="13.11" fill="rgb(80,80,0)"/>
<rect x="95.95" y="717.50" width="13.02" height="13.11" fill="rgb(0,0,240)"/>
<rect x="31.10" y="730.56" width="13.02" height="13.11" fill="rgb(96,96,0)"/>
<rect x="44.07" y="730.56" width="13.02" height="13.11" fill="rgb(128,128,0)"/>
<rect x="57.04" y="730.56" width="13.02" height="13.11" fill="rgb(120,120,0)"/>
<rect x="70.01" y="730.56" width="13.02" height="13.11" fill="rgb(0,0,48)"/>
<rect x="82.98" y="730.56" width="13.02" height="13.11" fill="rgb(16,16,0)"/>
<rect x="95.95" y="730.56" width="13.02" height="13.11" fill="rgb(0,0,248)"/>
<rect x="31.10" y="743.62" width="13.02" height="13.11" fill="rgb(96,96,0)"/>
<rect x="44.07" y="743.62" width="13.02" height="13.11" fill="rgb(112,112,0)"/>
<rect x="57.04" y="743.62" width="13.02" height="13.11" fill="rgb(136,136,0)"/>
<rect x="70.01" y="743.62" width="13.02" height="13.11" fill="rgb(56,56,0)"/>
<rect x="82.98" y="743.62" width="13.02" height="13.11" fill="rgb(0,0,200)"/>
<rect x="95.95" y="743.62" width="13.02" height="13.11" fill="rgb(0,0,224)"/>
<rect x="31.10" y="756.68" width="13.02" height="13.11" fill="rgb(184,184,0)"/>
<rect x="44.07" y="756.68" width="13.02" height="13.11" fill="rgb(88,88,0)"/>
<rect x="57.04" y="756.68" width="13.02" height="13.11" fill="rgb(136,136,0)"/>
<rect x="70.01" y="756.68" width="13.02" height="13.11" fill="rgb(0,0,160)"/>
<rect x="82.98" y="756.68" width="13.02" height="13.11" fill="rgb(0,0,80)"/>
<rect x="95.95" y="756.68" width="13.02" height="13.11" fill="rgb(0,0,208)"/>
<rect x="31.10" y="769.74" width="13.02" height="13.11" fill="rgb(5,5,0)"/>
<rect x="44.07" y="769.74" width="13.02" height="13.11" fill="rgb(0,0,88)"/>
<rect x="57.04" y="769.74" width="13.02" height="13.11" fill="rgb(48,48,0)"/>
<rect x="70.01" y="769.74" width="13.02" height="13.11" fill="rgb(48,48,0)"/>
<rect x="82.98" y="769.74" width="13.02" height="13.11" fill="rgb(232,232,0)"/>
<rect x="95.95" y="769.74" width="13.02" height="13.11" fill="rgb(0,0,248)"/>
<rect x="31.10" y="782.80" width="13.02" height="13.11" fill="rgb(80,80,0)"/>
<rect x="44.07" y="782.80" width="13.02" height="13.11" fill="rgb(120,120,0)"/>
<rect x="57.04" y="782.80" width="13.02" height="13.11" fill="rgb(192,192,0)"/>
<rect x="70.01" y="782.80" width="13.02" height="13.11" fill="rgb(0,0,72)"/>
<rect x="82.98" y="782.80" width="13.02" height="13.11" fill="rgb(0,0,184)"/>
<rect x="95.95" y="782.80" width="13.02" height="13.11" fill="rgb(0,0,168)"/>
<rect x="31.10" y="795.86" width="13.02" height="13.11" fill="rgb(168,168,0)"/>
<rect x="44.07" y="795.86" width="13.02" height="13.11" fill="rgb(48,48,0)"/>
<rect x="57.04" y="795.86" width="13.02" height="13.11" fill="rgb(184,184,0)"/>
<rect x="70.01" y="795.86" width="13.02" height="13.11" fill="rgb(0,0,240)"/>
<rect x="82.98" y="795.86" width="13.02" height="13.11" fill="rgb(0,0,88)"/>
<rect x="95.95" y="795.86" width="13.02" height="13.11" fill="rgb(0,0,112)"/>
<rect x="31.10" y="808.92" width="13.02" height="13.11" fill="rgb(168,168,0)"/>
<rect x="44.07" y="808.92" width="13.02" height="13.11" fill="rgb(104,104,0)"/>
<rect x="57.04" y="808.92" width="13.02" height="13.11" fill="rgb(152,152,0)"/>
<rect x="70.01" y="808.92" width="13.02" height="13.11" fill="rgb(0,0,128)"/>
<rect x="82.98" y="808.92" width="13.02" height="13.11" fill="rgb(0,0,136)"/>
<rect x="95.95" y="808.92" width="13.02" height="13.11" fill="rgb(0,0,192)"/>
<rect x="31.10" y="821.98" width="13.02" height="13.11" fill="rgb(88,88,0)"/>
<rect x="44.07" y="821.98" width="13.02" height="13.11" fill="rgb(144,144,0)"/>
<rect x="57.04" y="821.98" width="13.02" height="13.11" fill="rgb(168,168,0)"/>
<rect x="70.01" y="821.98" width="13.02" height="13.11" fill="rgb(0,0,136)"/>
<rect x="82.98" y="821.98" width="13.02" height="13.11" fill="rgb(0,0,168)"/>
<rect x="95.95" y="821.98" width="13.02" height="13.11" fill="rgb(0,0,176)"/>
<line x1="44.07" y1="586.90" x2="44.07" y2="835.04" stroke="rgba(255,255,255,0.35)" stroke-width="0.8"/>
<line x1="57.04" y1="586.90" x2="57.04" y2="835.04" stroke="rgba(255,255,255,0.35)" stroke-width="0.8"/>
<line x1="70.01" y1="586.90" x2="70.01" y2="835.04" stroke="rgba(255,255,255,0.35)" stroke-width="0.8"/>
<line x1="82.98" y1="586.90" x2="82.98" y2="835.04" stroke="rgba(255,255,255,0.35)" stroke-width="0.8"/>
<line x1="95.95" y1="586.90" x2="95.95" y2="835.04" stroke="rgba(255,255,255,0.35)" stroke-width="0.8"/>
<line x1="31.10" y1="599.96" x2="108.92" y2="599.96" stroke="rgba(255,255,255,0.35)" stroke-width="0.8"/>
<line x1="31.10" y1="613.02" x2="108.92" y2="613.02" stroke="rgba(255,255,255,0.35)" stroke-width="0.8"/>
<line x1="31.10" y1="626.08" x2="108.92" y2="626.08" stroke="rgba(255,255,255,0.35)" stroke-width="0.8"/>
<line x1="31.10" y1="639.14" x2="108.92" y2="639.14" stroke="rgba(255,255,255,0.35)" stroke-width="0.8"/>
<line x1="31.10" y1="652.20" x2="108.92" y2="652.20" stroke="rgba(255,255,255,0.35)" stroke-width="0.8"/>
<line x1="31.10" y1="665.26" x2="108.92" y2="665.26" stroke="rgba(255,255,255,0.35)" stroke-width="0.8"/>
<line x1="31.10" y1="678.32" x2="108.92" y2="678.32" stroke="rgba(255,255,255,0.35)" stroke-width="0.8"/>
<line x1="31.10" y1="691.38" x2="108.92" y2="691.38" stroke="rgba(255,255,255,0.35)" stroke-width="0.8"/>
<line x1="31.10" y1="704.44" x2="108.92" y2="704.44" stroke="rgba(255,255,255,0.35)" stroke-width="0.8"/>
<line x1="31.10" y1="717.50" x2="108.92" y2="717.50" stroke="rgba(255,255,255,0.35)" stroke-width="0.8"/>
<line x1="31.10" y1="730.56" x2="108.92" y2="730.56" stroke="rgba(255,255,255,0.35)" stroke-width="0.8"/>
<line x1="31.10" y1="743.62" x2="108.92" y2="743.62" stroke="rgba(255,255,255,0.35)" stroke-width="0.8"/>
<line x1="31.10" y1="756.68" x2="108.92" y2="756.68" stroke="rgba(255,255,255,0.35)" stroke-width="0.8"/>
<line x1="31.10" y1="769.74" x2="108.92" y2="769.74" stroke="rgba(255,255,255,0.35)" stroke-width="0.8"/>
<line x1="31.10" y1="782.80" x2="108.92" y2="782.80" stroke="rgba(255,255,255,0.35)" stroke-width="0.8"/>
<line x1="31.10" y1="795.86" x2="108.92" y2="795.86" stroke="rgba(255,255,255,0.35)" stroke-width="0.8"/>
<line x1="31.10" y1="808.92" x2="108.92" y2="808.92" stroke="rgba(255,255,255,0.35)" stroke-width="0.8"/>
<line x1="31.10" y1="821.98" x2="108.92" y2="821.98" stroke="rgba(255,255,255,0.35)" stroke-width="0.8"/>
<rect x="116.00" y="586.90" width="13.02" height="13.11" fill="rgb(0,0,80)"/>
<rect x="128.97" y="586.90" width="13.02" height="13.11" fill="rgb(0,0,176)"/>
<rect x="141.94" y="586.90" width="13.02" height="13.11" fill="rgb(21,21,0)"/>
<rect x="154.91" y="586.90" width="13.02" height="13.11" fill="rgb(224,224,0)"/>
<rect x="167.88" y="586.90" width="13.02" height="13.11" fill="rgb(0,0,176)"/>
<rect x="180.85" y="586.90" width="13.02" height="13.11" fill="rgb(152,152,0)"/>
<rect x="116.00" y="599.96" width="13.02" height="13.11" fill="rgb(88,88,0)"/>
<rect x="128.97" y="599.96" width="13.02" height="13.11" fill="rgb(192,192,0)"/>
<rect x="141.94" y="599.96" width="13.02" height="13.11" fill="rgb(0,0,208)"/>
<rect x="154.91" y="599.96" width="13.02" height="13.11" fill="rgb(0,0,96)"/>
<rect x="167.88" y="599.96" width="13.02" height="13.11" fill="rgb(136,136,0)"/>
<rect x="180.85" y="599.96" width="13.02" height="13.11" fill="rgb(0,0,160)"/>
<rect x="116.00" y="613.02" width="13.02" height="13.11" fill="rgb(112,112,0)"/>
<rect x="128.97" y="613.02" width="13.02" height="13.11" fill="rgb(0,0,248)"/>
<rect x="141.94" y="613.02" width="13.02" height="13.11" fill="rgb(184,184,0)"/>
<rect x="154.91" y="613.02" width="13.02" height="13.11" fill="rgb(80,80,0)"/>
<rect x="167.88" y="613.02" width="13.02" height="13.11" fill="rgb(0,0,88)"/>
<rect x="180.85" y="613.02" width="13.02" height="13.11" fill="rgb(0,0,64)"/>
<rect x="116.00" y="626.08" width="13.02" height="13.11" fill="rgb(8,8,0)"/>
<rect x="128.97" y="626.08" width="13.02" height="13.11" fill="rgb(192,192,0)"/>
<rect x="141.94" y="626.08" width="13.02" height="13.11" fill="rgb(0,0,160)"/>
<rect x="154.91" y="626.08" width="13.02" height="13.11" fill="rgb(0,0,248)"/>
<rect x="167.88" y="626.08" width="13.02" height="13.11" fill="rgb(104,104,0)"/>
<rect x="180.85" y="626.08" width="13.02" height="13.11" fill="rgb(88,88,0)"/>
<rect x="116.00" y="639.14" width="13.02" height="13.11" fill="rgb(240,240,0)"/>
<rect x="128.97" y="639.14" width="13.02" height="13.11" fill="rgb(0,0,32)"/>
<rect x="141.94" y="639.14" width="13.02" height="13.11" fill="rgb(48,48,0)"/>
<rect x="154.91" y="639.14" width="13.02" height="13.11" fill="rgb(56,56,0)"/>
<rect x="167.88" y="639.14" width="13.02" height="13.11" fill="rgb(0,0,160)"/>
<rect x="180.85" y="639.14" width="13.02" height="13.11" fill="rgb(0,0,216)"/>
<rect x="116.00" y="652.20" width="13.02" height="13.11" fill="rgb(0,0,200)"/>
<rect x="128.97" y="652.20" width="13.02" height="13.11" fill="rgb(48,48,0)"/>
<rect x="141.94" y="652.20" width="13.02" height="13.11" fill="rgb(96,96,0)"/>
<rect x="154.91" y="652.20" width="13.02" height="13.11" fill="rgb(0,0,144)"/>
<rect x="167.88" y="652.20" width="13.02" height="13.11" fill="rgb(240,240,0)"/>
<rect x="180.85" y="652.20" width="13.02" height="13.11" fill="rgb(0,0,88)"/>
<rect x="116.00" y="665.26" width="13.02" height="13.11" fill="rgb(21,21,0)"/>
<rect x="128.97" y="665.26" width="13.02" height="13.11" fill="rgb(0,0,240)"/>
<rect x="141.94" y="665.26" width="13.02" height="13.11" fill="rgb(192,192,0)"/>
<rect x="154.91" y="665.26" width="13.02" height="13.11" fill="rgb(0,0,176)"/>
<rect x="167.88" y="665.26" width="13.02" height="13.11" fill="rgb(112,112,0)"/>
<rect x="180.85" y="665.26" width="13.02" height="13.11" fill="rgb(72,72,0)"/>
<rect x="116.00" y="678.32" width="13.02" height="13.11" fill="rgb(0,0,56)"/>
<rect x="128.97" y="678.32" width="13.02" height="13.11" fill="rgb(0,0,184)"/>
<rect x="141.94" y="678.32" width="13.02" height="13.11" fill="rgb(0,0,208)"/>
<rect x="154.91" y="678.32" width="13.02" height="13.11" fill="rgb(192,192,0)"/>
<rect x="167.88" y="678.32" width="13.02" height="13.11" fill="rgb(56,56,0)"/>
<rect x="180.85" y="678.32" width="13.02" height="13.11" fill="rgb(160,160,0)"/>
<rect x="116.00" y="691.38" width="13.02" height="13.11" fill="rgb(128,128,0)"/>
<rect x="128.97" y="691.38" width="13.02" height="13.11" fill="rgb(232,232,0)"/>
<rect x="141.94" y="691.38" width="13.02" height="13.11" fill="rgb(0,0,136)"/>
<rect x="154.91" y="691.38" width="13.02" height="13.11" fill="rgb(0,0,184)"/>
<rect x="167.88" y="691.38" width="13.02" height="13.11" fill="rgb(21,21,0)"/>
<rect x="180.85" y="691.38" width="13.02" height="13.11" fill="rgb(0,0,88)"/>
<rect x="116.00" y="704.44" width="13.02" height="13.11" fill="rgb(72,72,0)"/>
<rect x="128.97" y="704.44" width="13.02" height="13.11" fill="rgb(168,168,0)"/>
<rect x="141.94" y="704.44" width="13.02" height="13.11" fill="rgb(0,0,48)"/>
<rect x="154.91" y="704.44" width="13.02" height="13.11" fill="rgb(5,5,0)"/>
<rect x="167.88" y="704.44" width="13.02" height="13.11" fill="rgb(88,88,0)"/>
<rect x="180.85" y="704.44" width="13.02" height="13.11" fill="rgb(0,0,248)"/>
<rect x="116.00" y="717.50" width="13.02" height="13.11" fill="rgb(0,0,21)"/>
<rect x="128.97" y="717.50" width="13.02" height="13.11" fill="rgb(216,216,0)"/>
<rect x="141.94" y="717.50" width="13.02" height="13.11" fill="rgb(0,0,128)"/>
<rect x="154.91" y="717.50" width="13.02" height="13.11" fill="rgb(0,0,160)"/>
<rect x="167.88" y="717.50" width="13.02" height="13.11" fill="rgb(168,168,0)"/>
<rect x="180.85" y="717.50" width="13.02" height="13.11" fill="rgb(0,0,160)"/>
<rect x="116.00" y="730.56" width="13.02" height="13.11" fill="rgb(64,64,0)"/>
<rect x="128.97" y="730.56" width="13.02" height="13.11" fill="rgb(208,208,0)"/>
<rect x="141.94" y="730.56" width="13.02" height="13.11" fill="rgb(0,0,0)"/>
<rect x="154.91" y="730.56" width="13.02" height="13.11" fill="rgb(0,0,248)"/>
<rect x="167.88" y="730.56" width="13.02" height="13.11" fill="rgb(88,88,0)"/>
<rect x="180.85" y="730.56" width="13.02" height="13.11" fill="rgb(0,0,136)"/>
<rect x="116.00" y="743.62" width="13.02" height="13.11" fill="rgb(168,168,0)"/>
<rect x="128.97" y="743.62" width="13.02" height="13.11" fill="rgb(192,192,0)"/>
<rect x="141.94" y="743.62" width="13.02" height="13.11" fill="rgb(0,0,56)"/>
<rect x="154.91" y="743.62" width="13.02" height="13.11" fill="rgb(0,0,128)"/>
<rect x="167.88" y="743.62" width="13.02" height="13.11" fill="rgb(40,40,0)"/>
<rect x="180.85" y="743.62" width="13.02" height="13.11" fill="rgb(0,0,240)"/>
<rect x="116.00" y="756.68" width="13.02" height="13.11" fill="rgb(0,0,200)"/>
<rect x="128.97" y="756.68" width="13.02" height="13.11" fill="rgb(104,104,0)"/>
<rect x="141.94" y="756.68" width="13.02" height="13.11" fill="rgb(40,40,0)"/>
<rect x="154.91" y="756.68" width="13.02" height="13.11" fill="rgb(120,120,0)"/>
<rect x="167.88" y="756.68" width="13.02" height="13.11" fill="rgb(0,0,248)"/>
<rect x="180.85" y="756.68" width="13.02" height="13.11" fill="rgb(136,136,0)"/>
<rect x="116.00" y="769.74" width="13.02" height="13.11" fill="rgb(192,192,0)"/>
<rect x="128.97" y="769.74" width="13.02" height="13.11" fill="rgb(168,168,0)"/>
<rect x="141.94" y="769.74" width="13.02" height="13.11" fill="rgb(0,0,176)"/>
<rect x="154.91" y="769.74" width="13.02" height="13.11" fill="rgb(0,0,216)"/>
<rect x="167.88" y="769.74" width="13.02" height="13.11" fill="rgb(0,0,16)"/>
<rect x="180.85" y="769.74" width="13.02" height="13.11" fill="rgb(16,16,0)"/>
<rect x="116.00" y="782.80" width="13.02" height="13.11" fill="rgb(176,176,0)"/>
<rect x="128.97" y="782.80" width="13.02" height="13.11" fill="rgb(80,80,0)"/>
<rect x="141.94" y="782.80" width="13.02" height="13.11" fill="rgb(136,136,0)"/>
<rect x="154.91" y="782.80" width="13.02" height="13.11" fill="rgb(0,0,248)"/>
<rect x="167.88" y="782.80" width="13.02" height="13.11" fill="rgb(0,0,136)"/>
<rect x="180.85" y="782.80" width="13.02" height="13.11" fill="rgb(0,0,8)"/>
<rect x="116.00" y="795.86" width="13.02" height="13.11" fill="rgb(0,0,152)"/>
<rect x="128.97" y="795.86" width="13.02" height="13.11" fill="rgb(160,160,0)"/>
<rect x="141.94" y="795.86" width="13.02" height="13.11" fill="rgb(0,0,240)"/>
<rect x="154.91" y="795.86" width="13.02" height="13.11" fill="rgb(0,0,72)"/>
<rect x="167.88" y="795.86" width="13.02" height="13.11" fill="rgb(160,160,0)"/>
<rect x="180.85" y="795.86" width="13.02" height="13.11" fill="rgb(80,80,0)"/>
<rect x="116.00" y="808.92" width="13.02" height="13.11" fill="rgb(128,128,0)"/>
<rect x="128.97" y="808.92" width="13.02" height="13.11" fill="rgb(0,0,240)"/>
<rect x="141.94" y="808.92" width="13.02" height="13.11" fill="rgb(176,176,0)"/>
<rect x="154.91" y="808.92" width="13.02" height="13.11" fill="rgb(96,96,0)"/>
<rect x="167.88" y="808.92" width="13.02" height="13.11" fill="rgb(0,0,152)"/>
<rect x="180.85" y="808.92" width="13.02" height="13.11" fill="rgb(0,0,32)"/>
<rect x="116.00" y="821.98" width="13.02" height="13.11" fill="rgb(224,224,0)"/>
<rect x="128.97" y="821.98" width="13.02" height="13.11" fill="rgb(0,0,248)"/>
<rect x="141.94" y="821.98" width="13.02" height="13.11" fill="rgb(104,104,0)"/>
<rect x="154.91" y="821.98" width="13.02" height="13.11" fill="rgb(32,32,0)"/>
<rect x="167.88" y="821.98" width="13.02" height="13.11" fill="rgb(0,0,128)"/>
<rect x="180.85" y="821.98" width="13.02" height="13.11" fill="rgb(21,21,0)"/>
<line x1="128.97" y1="586.90" x2="128.97" y2="835.04" stroke="rgba(255,255,255,0.35)" stroke-width="0.8"/>
<line x1="141.94" y1="586.90" x2="141.94" y2="835.04" stroke="rgba(255,255,255,0.35)" stroke-width="0.8"/>
<line x1="154.91" y1="586.90" x2="154.91" y2="835.04" stroke="rgba(255,255,255,0.35)" stroke-width="0.8"/>
<line x1="167.88" y1="586.90" x2="167.88" y2="835.04" stroke="rgba(255,255,255,0.35)" stroke-width="0.8"/>
<line x1="180.85" y1="586.90" x2="180.85" y2="835.04" stroke="rgba(255,255,255,0.35)" stroke-width="0.8"/>
<line x1="116.00" y1="599.96" x2="193.82" y2="599.96" stroke="rgba(255,255,255,0.35)" stroke-width="0.8"/>
<line x1="116.00" y1="613.02" x2="193.82" y2="613.02" stroke="rgba(255,255,255,0.35)" stroke-width="0.8"/>
<line x1="116.00" y1="626.08" x2="193.82" y2="626.08" stroke="rgba(255,255,255,0.35)" stroke-width="0.8"/>
<line x1="116.00" y1="639.14" x2="193.82" y2="639.14" stroke="rgba(255,255,255,0.35)" stroke-width="0.8"/>
<line x1="116.00" y1="652.20" x2="193.82" y2="652.20" stroke="rgba(255,255,255,0.35)" stroke-width="0.8"/>
<line x1="116.00" y1="665.26" x2="193.82" y2="665.26" stroke="rgba(255,255,255,0.35)" stroke-width="0.8"/>
<line x1="116.00" y1="678.32" x2="193.82" y2="678.32" stroke="rgba(255,255,255,0.35)" stroke-width="0.8"/>
<line x1="116.00" y1="691.38" x2="193.82" y2="691.38" stroke="rgba(255,255,255,0.35)" stroke-width="0.8"/>
<line x1="116.00" y1="704.44" x2="193.82" y2="704.44" stroke="rgba(255,255,255,0.35)" stroke-width="0.8"/>
<line x1="116.00" y1="717.50" x2="193.82" y2="717.50" stroke="rgba(255,255,255,0.35)" stroke-width="0.8"/>
<line x1="116.00" y1="730.56" x2="193.82" y2="730.56" stroke="rgba(255,255,255,0.35)" stroke-width="0.8"/>
<line x1="116.00" y1="743.62" x2="193.82" y2="743.62" stroke="rgba(255,255,255,0.35)" stroke-width="0.8"/>
<line x1="116.00" y1="756.68" x2="193.82" y2="756.68" stroke="rgba(255,255,255,0.35)" stroke-width="0.8"/>
<line x1="116.00" y1="769.74" x2="193.82" y2="769.74" stroke="rgba(255,255,255,0.35)" stroke-width="0.8"/>
<line x1="116.00" y1="782.80" x2="193.82" y2="782.80" stroke="rgba(255,255,255,0.35)" stroke-width="0.8"/>
<line x1="116.00" y1="795.86" x2="193.82" y2="795.86" stroke="rgba(255,255,255,0.35)" stroke-width="0.8"/>
<line x1="116.00" y1="808.92" x2="193.82" y2="808.92" stroke="rgba(255,255,255,0.35)" stroke-width="0.8"/>
<line x1="116.00" y1="821.98" x2="193.82" y2="821.98" stroke="rgba(255,255,255,0.35)" stroke-width="0.8"/>
<text x="199.20" y="595.93" font-size="9.6" fill="#111" stroke="#111" stroke-width="0.22" textLength="30.00" lengthAdjust="spacingAndGlyphs">PTPRC</text>
<text x="199.20" y="608.99" font-size="9.6" fill="#111" stroke="#111" stroke-width="0.22" textLength="27.40" lengthAdjust="spacingAndGlyphs">HLA-C</text>
<text x="199.20" y="622.05" font-size="9.6" fill="#111" stroke="#111" stroke-width="0.22" textLength="18.10" lengthAdjust="spacingAndGlyphs">SPN</text>
<text x="199.20" y="635.11" font-size="9.6" fill="#111" stroke="#111" stroke-width="0.22" textLength="26.90" lengthAdjust="spacingAndGlyphs">HLA-B</text>
<text x="199.20" y="648.17" font-size="9.6" fill="#111" stroke="#111" stroke-width="0.22" textLength="26.60" lengthAdjust="spacingAndGlyphs">ICAM1</text>
<line x1="238.20" y1="645.82" x2="253.80" y2="645.82" stroke="#111" stroke-width="1.7"/>
<path d="M235.20,645.67 L243.40,642.27 L241.20,645.67 L243.40,649.07 Z" fill="#000"/>
<text x="199.20" y="661.23" font-size="9.6" fill="#111" stroke="#111" stroke-width="0.22" textLength="24.30" lengthAdjust="spacingAndGlyphs">CD40</text>
<text x="199.20" y="674.29" font-size="9.6" fill="#111" stroke="#111" stroke-width="0.22" textLength="24.30" lengthAdjust="spacingAndGlyphs">CD86</text>
<text x="199.20" y="687.35" font-size="9.6" fill="#111" stroke="#111" stroke-width="0.22" textLength="30.40" lengthAdjust="spacingAndGlyphs">ALCAM</text>
<text x="199.20" y="700.41" font-size="9.6" fill="#111" stroke="#111" stroke-width="0.22" textLength="35.80" lengthAdjust="spacingAndGlyphs">CLDN23</text>
<text x="199.20" y="713.47" font-size="9.6" fill="#111" stroke="#111" stroke-width="0.22" textLength="30.40" lengthAdjust="spacingAndGlyphs">PDCD1</text>
<text x="199.20" y="726.53" font-size="9.6" fill="#111" stroke="#111" stroke-width="0.22" textLength="27.40" lengthAdjust="spacingAndGlyphs">ICAM2</text>
<text x="199.20" y="739.59" font-size="9.6" fill="#111" stroke="#111" stroke-width="0.22" textLength="45.60" lengthAdjust="spacingAndGlyphs">HLA-DRB5</text>
<text x="199.20" y="752.65" font-size="9.6" fill="#111" stroke="#111" stroke-width="0.22" textLength="26.60" lengthAdjust="spacingAndGlyphs">HLA-A</text>
<text x="199.20" y="765.71" font-size="9.6" fill="#111" stroke="#111" stroke-width="0.22" textLength="24.10" lengthAdjust="spacingAndGlyphs">CD22</text>
<text x="199.20" y="778.77" font-size="9.6" fill="#111" stroke="#111" stroke-width="0.22" textLength="26.20" lengthAdjust="spacingAndGlyphs">ITGB7</text>
<text x="199.20" y="791.83" font-size="9.6" fill="#111" stroke="#111" stroke-width="0.22" textLength="24.60" lengthAdjust="spacingAndGlyphs">ITGAL</text>
<line x1="238.20" y1="789.48" x2="253.80" y2="789.48" stroke="#111" stroke-width="1.7"/>
<path d="M235.20,789.33 L243.40,785.93 L241.20,789.33 L243.40,792.73 Z" fill="#000"/>
<text x="199.20" y="804.89" font-size="9.6" fill="#111" stroke="#111" stroke-width="0.22" textLength="19.10" lengthAdjust="spacingAndGlyphs">MPZ</text>
<text x="199.20" y="817.95" font-size="9.6" fill="#111" stroke="#111" stroke-width="0.22" textLength="26.20" lengthAdjust="spacingAndGlyphs">ITGB2</text>
<line x1="238.20" y1="815.60" x2="253.80" y2="815.60" stroke="#111" stroke-width="1.7"/>
<path d="M235.20,815.45 L243.40,812.05 L241.20,815.45 L243.40,818.85 Z" fill="#000"/>
<text x="199.20" y="831.01" font-size="9.6" fill="#111" stroke="#111" stroke-width="0.22" textLength="27.10" lengthAdjust="spacingAndGlyphs">PVRL1</text>
<defs><linearGradient id="cbB" x1="0" x2="1" y1="0" y2="0"><stop offset="0" stop-color="#0000ff"/><stop offset="0.5" stop-color="#000000"/><stop offset="1" stop-color="#ffff00"/></linearGradient></defs>
<rect x="31.60" y="843.70" width="159.8" height="9.3" fill="url(#cbB)" stroke="#111" stroke-width="1"/>
<text x="22.00" y="866.10" font-size="9" fill="#111" stroke="#111" stroke-width="0.22" textLength="20.60" lengthAdjust="spacingAndGlyphs">-1.50</text>
<text x="102.90" y="866.10" font-size="9" fill="#111" stroke="#111" stroke-width="0.22" textLength="18.20" lengthAdjust="spacingAndGlyphs">0.00</text>
<text x="180.60" y="866.10" font-size="9" fill="#111" stroke="#111" stroke-width="0.22" textLength="19.30" lengthAdjust="spacingAndGlyphs">1.50</text>
<text x="342.50" y="39.50" font-size="12" fill="#111" stroke="#111" stroke-width="0.22" textLength="164.00" lengthAdjust="spacingAndGlyphs">BCR enrichment plot in JeKo-1</text>
<line x1="341.60" y1="48.29" x2="509.80" y2="48.29" stroke="#efefef" stroke-width="0.8"/>
<line x1="341.60" y1="57.12" x2="509.80" y2="57.12" stroke="#efefef" stroke-width="0.8"/>
<line x1="341.60" y1="65.95" x2="509.80" y2="65.95" stroke="#efefef" stroke-width="0.8"/>
<line x1="341.60" y1="74.78" x2="509.80" y2="74.78" stroke="#efefef" stroke-width="0.8"/>
<line x1="341.60" y1="83.61" x2="509.80" y2="83.61" stroke="#efefef" stroke-width="0.8"/>
<line x1="341.60" y1="92.44" x2="509.80" y2="92.44" stroke="#efefef" stroke-width="0.8"/>
<line x1="341.60" y1="101.27" x2="509.80" y2="101.27" stroke="#efefef" stroke-width="0.8"/>
<line x1="373.10" y1="47.30" x2="373.10" y2="116.40" stroke="#efefef" stroke-width="0.8"/>
<line x1="373.10" y1="145.20" x2="373.10" y2="192.00" stroke="#f0f0f0" stroke-width="0.8" stroke-dasharray="1,1"/>
<line x1="404.60" y1="47.30" x2="404.60" y2="116.40" stroke="#efefef" stroke-width="0.8"/>
<line x1="404.60" y1="145.20" x2="404.60" y2="192.00" stroke="#f0f0f0" stroke-width="0.8" stroke-dasharray="1,1"/>
<line x1="436.10" y1="47.30" x2="436.10" y2="116.40" stroke="#efefef" stroke-width="0.8"/>
<line x1="436.10" y1="145.20" x2="436.10" y2="192.00" stroke="#f0f0f0" stroke-width="0.8" stroke-dasharray="1,1"/>
<line x1="467.60" y1="47.30" x2="467.60" y2="116.40" stroke="#efefef" stroke-width="0.8"/>
<line x1="467.60" y1="145.20" x2="467.60" y2="192.00" stroke="#f0f0f0" stroke-width="0.8" stroke-dasharray="1,1"/>
<line x1="499.10" y1="47.30" x2="499.10" y2="116.40" stroke="#efefef" stroke-width="0.8"/>
<line x1="499.10" y1="145.20" x2="499.10" y2="192.00" stroke="#f0f0f0" stroke-width="0.8" stroke-dasharray="1,1"/>
<line x1="341.60" y1="110.10" x2="509.80" y2="110.10" stroke="#d4d4d4" stroke-width="1.2"/>
<line x1="341.60" y1="146.90" x2="509.80" y2="146.90" stroke="#f0f0f0" stroke-width="0.8" stroke-dasharray="1,1"/>
<line x1="341.60" y1="158.50" x2="509.80" y2="158.50" stroke="#f0f0f0" stroke-width="0.8" stroke-dasharray="1,1"/>
<line x1="341.60" y1="182.10" x2="509.80" y2="182.10" stroke="#f0f0f0" stroke-width="0.8" stroke-dasharray="1,1"/>
<line x1="341.60" y1="116.60" x2="509.80" y2="116.60" stroke="#d0d0d0" stroke-width="0.8"/>
<line x1="341.60" y1="139.40" x2="509.80" y2="139.40" stroke="#d8d8d8" stroke-width="0.8"/>
<line x1="341.60" y1="145.50" x2="509.80" y2="145.50" stroke="#c8c8c8" stroke-width="0.8"/>
<g filter="url(#hb)">
<rect x="341.80" y="117.40" width="2.70" height="22.00" fill="rgb(48,48,48)"/>
<rect x="344.50" y="117.40" width="1.50" height="22.00" fill="rgb(128,128,128)"/>
<rect x="346.00" y="117.40" width="1.50" height="22.00" fill="rgb(176,176,176)"/>
<rect x="349.50" y="117.40" width="1.50" height="22.00" fill="rgb(160,160,160)"/>
<rect x="351.00" y="117.40" width="1.50" height="22.00" fill="rgb(80,80,80)"/>
<rect x="353.50" y="117.40" width="1.50" height="22.00" fill="rgb(144,144,144)"/>
<rect x="355.00" y="117.40" width="1.50" height="22.00" fill="rgb(192,192,192)"/>
<rect x="358.50" y="117.40" width="1.50" height="22.00" fill="rgb(160,160,160)"/>
<rect x="362.50" y="117.40" width="1.50" height="22.00" fill="rgb(160,160,160)"/>
<rect x="366.50" y="117.40" width="2.00" height="22.00" fill="rgb(192,192,192)"/>
<rect x="368.50" y="117.40" width="2.50" height="22.00" fill="rgb(96,96,96)"/>
<rect x="371.00" y="117.40" width="1.00" height="22.00" fill="rgb(144,144,144)"/>
<rect x="373.50" y="117.40" width="1.50" height="22.00" fill="rgb(160,160,160)"/>
<rect x="375.00" y="117.40" width="3.00" height="22.00" fill="rgb(128,128,128)"/>
<rect x="378.00" y="117.40" width="1.50" height="22.00" fill="rgb(160,160,160)"/>
<rect x="381.00" y="117.40" width="1.00" height="22.00" fill="rgb(160,160,160)"/>
<rect x="382.00" y="117.40" width="2.00" height="22.00" fill="rgb(80,80,80)"/>
<rect x="384.00" y="117.40" width="1.50" height="22.00" fill="rgb(160,160,160)"/>
<rect x="385.50" y="117.40" width="1.50" height="22.00" fill="rgb(192,192,192)"/>
<rect x="388.00" y="117.40" width="1.50" height="22.00" fill="rgb(144,144,144)"/>
<rect x="390.50" y="117.40" width="1.80" height="22.00" fill="rgb(144,144,144)"/>
<rect x="394.00" y="117.40" width="1.00" height="22.00" fill="rgb(144,144,144)"/>
<rect x="408.00" y="117.40" width="1.20" height="22.00" fill="rgb(128,128,128)"/>
<rect x="423.50" y="117.40" width="1.10" height="22.00" fill="rgb(144,144,144)"/>
<rect x="434.00" y="117.40" width="1.10" height="22.00" fill="rgb(136,136,136)"/>
<rect x="450.00" y="117.40" width="1.00" height="22.00" fill="rgb(144,144,144)"/>
<rect x="453.00" y="117.40" width="1.00" height="22.00" fill="rgb(160,160,160)"/>
<rect x="456.00" y="117.40" width="1.20" height="22.00" fill="rgb(128,128,128)"/>
<rect x="459.30" y="117.40" width="1.70" height="22.00" fill="rgb(80,80,80)"/>
<rect x="463.00" y="117.40" width="1.00" height="22.00" fill="rgb(160,160,160)"/>
<rect x="466.70" y="117.40" width="1.10" height="22.00" fill="rgb(144,144,144)"/>
<rect x="476.20" y="117.40" width="1.20" height="22.00" fill="rgb(136,136,136)"/>
<rect x="481.50" y="117.40" width="1.00" height="22.00" fill="rgb(160,160,160)"/>
<rect x="485.70" y="117.40" width="1.10" height="22.00" fill="rgb(144,144,144)"/>
<rect x="489.00" y="117.40" width="1.00" height="22.00" fill="rgb(144,144,144)"/>
<rect x="493.00" y="117.40" width="2.50" height="22.00" fill="rgb(160,160,160)"/>
<rect x="496.00" y="117.40" width="2.00" height="22.00" fill="rgb(160,160,160)"/>
<rect x="499.00" y="117.40" width="1.00" height="22.00" fill="rgb(160,160,160)"/>
</g>
<rect x="342.40" y="139.40" width="28.60" height="5.80" fill="#f24a4a"/>
<rect x="371.00" y="139.40" width="13.00" height="5.80" fill="#ef6c78"/>
<rect x="384.00" y="139.40" width="65.70" height="5.80" fill="#f8b4dc"/>
<rect x="449.70" y="139.40" width="32.30" height="5.80" fill="#c8c8f8"/>
<rect x="482.00" y="139.40" width="16.30" height="5.80" fill="#6262ec"/>
<rect x="498.30" y="139.40" width="3.20" height="5.80" fill="#1414c8"/>
<text x="343.40" y="149.00" font-size="4.4" fill="#ff6262" textLength="52.80" lengthAdjust="spacingAndGlyphs">DMSO (positively correlated)</text>
<text x="425.40" y="190.30" font-size="4.4" fill="#4848f0" stroke="#4848f0" stroke-width="0.04" textLength="59.00" lengthAdjust="spacingAndGlyphs">Ibrutinib (negatively correlated)</text>
<path d="M342.4,170.4 L342.4,160.5 C344,164 347,166.5 353,167.7 C360,168.6 370,169.2 393.4,170.1 L393.4,170.4 Z M393.4,170.2 L449,170.0 L449,170.7 C468,171.3 482,172.6 490,174.0 C496,175.3 499.5,177 500.8,182.3 L501.6,189.2 L501.8,169.9 Z" fill="#bdbdbd"/>
<line x1="393.40" y1="146.20" x2="393.40" y2="192.00" stroke="#c0c0c0" stroke-width="0.8" stroke-dasharray="1,1.2"/>
<text x="378.30" y="170.40" font-size="4.6" fill="#333" stroke="#333" stroke-width="0.05" textLength="30.70" lengthAdjust="spacingAndGlyphs">Zero cross at 8238</text>
<polyline points="342.20,83.80 342.60,73.10 343.60,64.80 345.00,55.10 346.00,53.70 347.80,52.70 349.20,53.60 350.20,54.00 352.30,50.90 354.00,51.50 356.10,50.40 358.20,51.50 360.20,52.00 363.40,53.30 365.80,54.20 367.70,54.90 370.30,55.40 372.00,55.00 374.60,55.70 377.20,56.10 379.80,57.10 383.30,58.50 388.40,61.40 395.40,65.40 402.30,69.20 409.20,73.00 416.10,76.70 423.00,80.50 428.80,82.70 437.70,88.00 446.50,93.00 455.40,97.40 464.20,101.50 473.10,105.90 478.40,107.50 483.70,109.80 489.00,111.60 492.90,112.80 496.10,111.00 499.60,108.60 501.80,109.80" fill="none" stroke="#00f400" stroke-width="1.9" stroke-linejoin="round"/>
<path d="M341.60,192.00 L341.60,47.30 L509.80,47.30 L509.80,192.00 Z" fill="none" stroke="#000" stroke-width="1.6"/>
<line x1="337.40" y1="48.29" x2="341.60" y2="48.29" stroke="#000" stroke-width="1.2"/>
<text x="332.00" y="51.49" font-size="9.5" fill="#111" stroke="#111" stroke-width="0.22" text-anchor="end" textLength="12.60" lengthAdjust="spacingAndGlyphs">0.7</text>
<line x1="337.40" y1="57.12" x2="341.60" y2="57.12" stroke="#000" stroke-width="1.2"/>
<text x="332.00" y="60.32" font-size="9.5" fill="#111" stroke="#111" stroke-width="0.22" text-anchor="end" textLength="12.60" lengthAdjust="spacingAndGlyphs">0.6</text>
<line x1="337.40" y1="65.95" x2="341.60" y2="65.95" stroke="#000" stroke-width="1.2"/>
<text x="332.00" y="69.15" font-size="9.5" fill="#111" stroke="#111" stroke-width="0.22" text-anchor="end" textLength="12.60" lengthAdjust="spacingAndGlyphs">0.5</text>
<line x1="337.40" y1="74.78" x2="341.60" y2="74.78" stroke="#000" stroke-width="1.2"/>
<text x="332.00" y="77.98" font-size="9.5" fill="#111" stroke="#111" stroke-width="0.22" text-anchor="end" textLength="12.60" lengthAdjust="spacingAndGlyphs">0.4</text>
<line x1="337.40" y1="83.61" x2="341.60" y2="83.61" stroke="#000" stroke-width="1.2"/>
<text x="332.00" y="86.81" font-size="9.5" fill="#111" stroke="#111" stroke-width="0.22" text-anchor="end" textLength="12.60" lengthAdjust="spacingAndGlyphs">0.3</text>
<line x1="337.40" y1="92.44" x2="341.60" y2="92.44" stroke="#000" stroke-width="1.2"/>
<text x="332.00" y="95.64" font-size="9.5" fill="#111" stroke="#111" stroke-width="0.22" text-anchor="end" textLength="12.60" lengthAdjust="spacingAndGlyphs">0.2</text>
<line x1="337.40" y1="101.27" x2="341.60" y2="101.27" stroke="#000" stroke-width="1.2"/>
<text x="332.00" y="104.47" font-size="9.5" fill="#111" stroke="#111" stroke-width="0.22" text-anchor="end" textLength="12.60" lengthAdjust="spacingAndGlyphs">0.1</text>
<line x1="337.40" y1="110.10" x2="341.60" y2="110.10" stroke="#000" stroke-width="1.2"/>
<text x="332.00" y="113.30" font-size="9.5" fill="#111" stroke="#111" stroke-width="0.22" text-anchor="end" textLength="12.60" lengthAdjust="spacingAndGlyphs">0.0</text>
<text x="336.30" y="149.70" font-size="9.5" fill="#111" stroke="#111" stroke-width="0.22" text-anchor="end" textLength="12.60" lengthAdjust="spacingAndGlyphs">5.0</text>
<text x="336.30" y="161.30" font-size="9.5" fill="#111" stroke="#111" stroke-width="0.22" text-anchor="end" textLength="12.60" lengthAdjust="spacingAndGlyphs">2.5</text>
<text x="336.30" y="173.20" font-size="9.5" fill="#111" stroke="#111" stroke-width="0.22" text-anchor="end" textLength="12.60" lengthAdjust="spacingAndGlyphs">0.0</text>
<text x="336.30" y="184.90" font-size="9.5" fill="#111" stroke="#111" stroke-width="0.22" text-anchor="end" textLength="15.60" lengthAdjust="spacingAndGlyphs">-2.5</text>
<line x1="341.60" y1="192.00" x2="341.60" y2="195.60" stroke="#000" stroke-width="1.2"/>
<text x="0" y="0" font-size="8.9" fill="#111" stroke="#111" stroke-width="0.22" text-anchor="end" transform="translate(345.10,206.00) rotate(-45)">0</text>
<line x1="373.10" y1="192.00" x2="373.10" y2="195.60" stroke="#000" stroke-width="1.2"/>
<text x="0" y="0" font-size="8.9" fill="#111" stroke="#111" stroke-width="0.22" text-anchor="end" transform="translate(376.60,206.00) rotate(-45)">5,000</text>
<line x1="404.60" y1="192.00" x2="404.60" y2="195.60" stroke="#000" stroke-width="1.2"/>
<text x="0" y="0" font-size="8.9" fill="#111" stroke="#111" stroke-width="0.22" text-anchor="end" transform="translate(408.10,206.00) rotate(-45)">10,000</text>
<line x1="436.10" y1="192.00" x2="436.10" y2="195.60" stroke="#000" stroke-width="1.2"/>
<text x="0" y="0" font-size="8.9" fill="#111" stroke="#111" stroke-width="0.22" text-anchor="end" transform="translate(439.60,206.00) rotate(-45)">15,000</text>
<line x1="467.60" y1="192.00" x2="467.60" y2="195.60" stroke="#000" stroke-width="1.2"/>
<text x="0" y="0" font-size="8.9" fill="#111" stroke="#111" stroke-width="0.22" text-anchor="end" transform="translate(471.10,206.00) rotate(-45)">20,000</text>
<line x1="499.10" y1="192.00" x2="499.10" y2="195.60" stroke="#000" stroke-width="1.2"/>
<text x="0" y="0" font-size="8.9" fill="#111" stroke="#111" stroke-width="0.22" text-anchor="end" transform="translate(502.60,206.00) rotate(-45)">25,000</text>
<text x="380.20" y="242.50" font-size="12.8" fill="#111" stroke="#111" stroke-width="0.5" textLength="90.70" lengthAdjust="spacingAndGlyphs">Rank in ordered dataset</text>
<text x="0" y="0" font-size="11.5" fill="#111" stroke="#111" stroke-width="0.45" text-anchor="middle" textLength="43.00" lengthAdjust="spacingAndGlyphs" transform="translate(295.20,79.00) rotate(-90)">Enrichment</text>
<text x="0" y="0" font-size="11.5" fill="#111" stroke="#111" stroke-width="0.45" text-anchor="middle" textLength="41.00" lengthAdjust="spacingAndGlyphs" transform="translate(311.40,79.00) rotate(-90)">score (ES)</text>
<text x="0" y="0" font-size="11.5" fill="#111" stroke="#111" stroke-width="0.45" text-anchor="middle" textLength="69.50" lengthAdjust="spacingAndGlyphs" transform="translate(294.70,164.00) rotate(-90)">Ranked list metric</text>
<text x="0" y="0" font-size="11.5" fill="#111" stroke="#111" stroke-width="0.45" text-anchor="middle" textLength="53.00" lengthAdjust="spacingAndGlyphs" transform="translate(310.60,164.30) rotate(-90)">(signal2noise)</text>
<text x="433.70" y="62.50" font-size="8.4" fill="#111" stroke="#111" stroke-width="0.08" textLength="40.70" lengthAdjust="spacingAndGlyphs">FDR q-value</text>
<text x="479.20" y="62.50" font-size="8.4" fill="#111" stroke="#111" stroke-width="0.08" textLength="19.50" lengthAdjust="spacingAndGlyphs">0.003</text>
<text x="433.70" y="72.00" font-size="8.4" fill="#111" stroke="#111" stroke-width="0.08" textLength="25.5" lengthAdjust="spacingAndGlyphs"><tspan font-style="italic">p</tspan>-Value</text>
<text x="479.20" y="72.00" font-size="8.4" fill="#111" stroke="#111" stroke-width="0.08" textLength="23.80" lengthAdjust="spacingAndGlyphs">&lt;0.001</text>
<line x1="293.50" y1="254.50" x2="300.50" y2="254.50" stroke="#50aa3c" stroke-width="1.2"/>
<text x="305.00" y="257.30" font-size="8" fill="#333" stroke="#333" stroke-width="0.22" textLength="59.50" lengthAdjust="spacingAndGlyphs">Enrichment profile</text>
<line x1="374.00" y1="254.50" x2="380.30" y2="254.50" stroke="#111" stroke-width="1.3"/>
<text x="384.80" y="257.30" font-size="8" fill="#333" stroke="#333" stroke-width="0.22" textLength="13.20" lengthAdjust="spacingAndGlyphs">Hits</text>
<line x1="403.00" y1="253.20" x2="408.80" y2="253.20" stroke="#c8c8c8" stroke-width="0.9"/>
<line x1="414.50" y1="255.00" x2="420.50" y2="255.00" stroke="#c8c8c8" stroke-width="0.9"/>
<text x="425.50" y="257.30" font-size="8" fill="#333" stroke="#333" stroke-width="0.22" textLength="73.80" lengthAdjust="spacingAndGlyphs">Ranking metric scores</text>
<text x="328.60" y="273.90" font-size="12" fill="#111" stroke="#111" stroke-width="0.22" textLength="180.80" lengthAdjust="spacingAndGlyphs">BCR enrichment plot in MAVER-1</text>
<line x1="335.50" y1="285.60" x2="504.80" y2="285.60" stroke="#efefef" stroke-width="0.8"/>
<line x1="335.50" y1="297.60" x2="504.80" y2="297.60" stroke="#efefef" stroke-width="0.8"/>
<line x1="335.50" y1="309.60" x2="504.80" y2="309.60" stroke="#efefef" stroke-width="0.8"/>
<line x1="335.50" y1="321.60" x2="504.80" y2="321.60" stroke="#efefef" stroke-width="0.8"/>
<line x1="335.50" y1="333.60" x2="504.80" y2="333.60" stroke="#efefef" stroke-width="0.8"/>
<line x1="351.35" y1="281.20" x2="351.35" y2="350.10" stroke="#efefef" stroke-width="0.8"/>
<line x1="351.35" y1="379.40" x2="351.35" y2="425.30" stroke="#f0f0f0" stroke-width="0.8" stroke-dasharray="1,1"/>
<line x1="367.20" y1="281.20" x2="367.20" y2="350.10" stroke="#efefef" stroke-width="0.8"/>
<line x1="367.20" y1="379.40" x2="367.20" y2="425.30" stroke="#f0f0f0" stroke-width="0.8" stroke-dasharray="1,1"/>
<line x1="383.05" y1="281.20" x2="383.05" y2="350.10" stroke="#efefef" stroke-width="0.8"/>
<line x1="383.05" y1="379.40" x2="383.05" y2="425.30" stroke="#f0f0f0" stroke-width="0.8" stroke-dasharray="1,1"/>
<line x1="398.90" y1="281.20" x2="398.90" y2="350.10" stroke="#efefef" stroke-width="0.8"/>
<line x1="398.90" y1="379.40" x2="398.90" y2="425.30" stroke="#f0f0f0" stroke-width="0.8" stroke-dasharray="1,1"/>
<line x1="414.75" y1="281.20" x2="414.75" y2="350.10" stroke="#efefef" stroke-width="0.8"/>
<line x1="414.75" y1="379.40" x2="414.75" y2="425.30" stroke="#f0f0f0" stroke-width="0.8" stroke-dasharray="1,1"/>
<line x1="430.60" y1="281.20" x2="430.60" y2="350.10" stroke="#efefef" stroke-width="0.8"/>
<line x1="430.60" y1="379.40" x2="430.60" y2="425.30" stroke="#f0f0f0" stroke-width="0.8" stroke-dasharray="1,1"/>
<line x1="446.45" y1="281.20" x2="446.45" y2="350.10" stroke="#efefef" stroke-width="0.8"/>
<line x1="446.45" y1="379.40" x2="446.45" y2="425.30" stroke="#f0f0f0" stroke-width="0.8" stroke-dasharray="1,1"/>
<line x1="462.30" y1="281.20" x2="462.30" y2="350.10" stroke="#efefef" stroke-width="0.8"/>
<line x1="462.30" y1="379.40" x2="462.30" y2="425.30" stroke="#f0f0f0" stroke-width="0.8" stroke-dasharray="1,1"/>
<line x1="478.15" y1="281.20" x2="478.15" y2="350.10" stroke="#efefef" stroke-width="0.8"/>
<line x1="478.15" y1="379.40" x2="478.15" y2="425.30" stroke="#f0f0f0" stroke-width="0.8" stroke-dasharray="1,1"/>
<line x1="494.00" y1="281.20" x2="494.00" y2="350.10" stroke="#efefef" stroke-width="0.8"/>
<line x1="494.00" y1="379.40" x2="494.00" y2="425.30" stroke="#f0f0f0" stroke-width="0.8" stroke-dasharray="1,1"/>
<line x1="335.50" y1="345.60" x2="504.80" y2="345.60" stroke="#d4d4d4" stroke-width="1.2"/>
<line x1="335.50" y1="387.80" x2="504.80" y2="387.80" stroke="#f0f0f0" stroke-width="0.8" stroke-dasharray="1,1"/>
<line x1="335.50" y1="394.90" x2="504.80" y2="394.90" stroke="#f0f0f0" stroke-width="0.8" stroke-dasharray="1,1"/>
<line x1="335.50" y1="409.20" x2="504.80" y2="409.20" stroke="#f0f0f0" stroke-width="0.8" stroke-dasharray="1,1"/>
<line x1="335.50" y1="416.60" x2="504.80" y2="416.60" stroke="#f0f0f0" stroke-width="0.8" stroke-dasharray="1,1"/>
<line x1="335.50" y1="350.30" x2="504.80" y2="350.30" stroke="#d0d0d0" stroke-width="0.8"/>
<line x1="335.50" y1="373.60" x2="504.80" y2="373.60" stroke="#d8d8d8" stroke-width="0.8"/>
<line x1="335.50" y1="379.70" x2="504.80" y2="379.70" stroke="#c8c8c8" stroke-width="0.8"/>
<g filter="url(#hb)">
<rect x="336.00" y="351.10" width="1.00" height="22.50" fill="rgb(192,192,192)"/>
<rect x="337.00" y="351.10" width="1.50" height="22.50" fill="rgb(144,144,144)"/>
<rect x="338.50" y="351.10" width="1.50" height="22.50" fill="rgb(184,184,184)"/>
<rect x="340.00" y="351.10" width="1.50" height="22.50" fill="rgb(160,160,160)"/>
<rect x="343.00" y="351.10" width="1.00" height="22.50" fill="rgb(160,160,160)"/>
<rect x="344.00" y="351.10" width="1.50" height="22.50" fill="rgb(200,200,200)"/>
<rect x="345.50" y="351.10" width="1.50" height="22.50" fill="rgb(144,144,144)"/>
<rect x="347.00" y="351.10" width="3.50" height="22.50" fill="rgb(72,72,72)"/>
<rect x="350.50" y="351.10" width="1.50" height="22.50" fill="rgb(144,144,144)"/>
<rect x="352.00" y="351.10" width="1.50" height="22.50" fill="rgb(176,176,176)"/>
<rect x="353.50" y="351.10" width="1.50" height="22.50" fill="rgb(64,64,64)"/>
<rect x="355.00" y="351.10" width="1.50" height="22.50" fill="rgb(144,144,144)"/>
<rect x="358.00" y="351.10" width="1.50" height="22.50" fill="rgb(160,160,160)"/>
<rect x="359.50" y="351.10" width="1.50" height="22.50" fill="rgb(224,224,224)"/>
<rect x="361.00" y="351.10" width="1.50" height="22.50" fill="rgb(144,144,144)"/>
<rect x="364.00" y="351.10" width="1.50" height="22.50" fill="rgb(128,128,128)"/>
<rect x="365.50" y="351.10" width="1.50" height="22.50" fill="rgb(80,80,80)"/>
<rect x="367.00" y="351.10" width="1.50" height="22.50" fill="rgb(144,144,144)"/>
<rect x="368.50" y="351.10" width="1.50" height="22.50" fill="rgb(96,96,96)"/>
<rect x="370.00" y="351.10" width="1.50" height="22.50" fill="rgb(160,160,160)"/>
<rect x="371.50" y="351.10" width="2.00" height="22.50" fill="rgb(64,64,64)"/>
<rect x="373.50" y="351.10" width="1.50" height="22.50" fill="rgb(144,144,144)"/>
<rect x="375.00" y="351.10" width="2.00" height="22.50" fill="rgb(32,32,32)"/>
<rect x="377.00" y="351.10" width="1.50" height="22.50" fill="rgb(160,160,160)"/>
<rect x="381.00" y="351.10" width="1.00" height="22.50" fill="rgb(160,160,160)"/>
<rect x="383.50" y="351.10" width="1.50" height="22.50" fill="rgb(144,144,144)"/>
<rect x="400.70" y="351.10" width="1.10" height="22.50" fill="rgb(128,128,128)"/>
<rect x="430.50" y="351.10" width="1.00" height="22.50" fill="rgb(176,176,176)"/>
<rect x="433.70" y="351.10" width="1.10" height="22.50" fill="rgb(144,144,144)"/>
<rect x="448.50" y="351.10" width="3.00" height="22.50" fill="rgb(138,138,138)"/>
<rect x="453.00" y="351.10" width="1.50" height="22.50" fill="rgb(128,128,128)"/>
<rect x="456.00" y="351.10" width="2.00" height="22.50" fill="rgb(64,64,64)"/>
<rect x="461.00" y="351.10" width="2.50" height="22.50" fill="rgb(176,176,176)"/>
<rect x="463.50" y="351.10" width="2.00" height="22.50" fill="rgb(48,48,48)"/>
<rect x="465.50" y="351.10" width="3.50" height="22.50" fill="rgb(128,128,128)"/>
<rect x="469.00" y="351.10" width="1.50" height="22.50" fill="rgb(192,192,192)"/>
<rect x="470.50" y="351.10" width="2.00" height="22.50" fill="rgb(144,144,144)"/>
<rect x="475.50" y="351.10" width="1.50" height="22.50" fill="rgb(112,112,112)"/>
<rect x="477.00" y="351.10" width="1.00" height="22.50" fill="rgb(200,200,200)"/>
<rect x="478.00" y="351.10" width="3.00" height="22.50" fill="rgb(160,160,160)"/>
</g>
<rect x="336.30" y="373.60" width="30.00" height="5.80" fill="#f24a4a"/>
<rect x="366.30" y="373.60" width="10.70" height="5.80" fill="#ef6c78"/>
<rect x="377.00" y="373.60" width="71.00" height="5.80" fill="#f8b4dc"/>
<rect x="448.00" y="373.60" width="31.80" height="5.80" fill="#c8c8f8"/>
<rect x="479.80" y="373.60" width="14.30" height="5.80" fill="#6262ec"/>
<rect x="494.10" y="373.60" width="2.20" height="5.80" fill="#1414c8"/>
<text x="336.60" y="383.40" font-size="4.4" fill="#ff6262" textLength="53.10" lengthAdjust="spacingAndGlyphs">DMSO (positively correlated)</text>
<text x="419.50" y="424.00" font-size="4.4" fill="#4848f0" stroke="#4848f0" stroke-width="0.04" textLength="59.20" lengthAdjust="spacingAndGlyphs">Ibrutinib (negatively correlated)</text>
<path d="M336.3,402.3 L336.3,396.5 C338,398.5 341,399.4 346,399.8 C355,400.5 368,401.2 383.6,401.8 L383.6,402.3 Z M383.6,402 L448,402 L448,402.8 C465,403.5 480,404.5 490,405.6 C494,406.5 495.5,409 496.3,421.4 L496.3,402 Z" fill="#bdbdbd"/>
<line x1="383.60" y1="380.40" x2="383.60" y2="425.30" stroke="#c0c0c0" stroke-width="0.8" stroke-dasharray="1,1.2"/>
<text x="369.00" y="404.50" font-size="4.6" fill="#333" stroke="#333" stroke-width="0.05" textLength="30.20" lengthAdjust="spacingAndGlyphs">Zero cross at 7648</text>
<polyline points="336.60,346.80 337.30,332.10 337.80,327.80 338.70,323.40 339.50,324.30 341.20,320.30 343.00,322.00 344.70,319.10 346.40,321.40 348.20,319.60 349.00,312.20 350.80,305.30 352.50,301.00 354.20,295.80 356.80,292.00 358.50,291.40 360.30,293.20 362.00,291.40 363.70,292.30 365.50,292.60 367.20,288.80 369.80,285.70 372.40,285.00 375.80,285.00 377.60,284.00 390.00,293.10 401.50,301.20 413.10,309.70 424.60,317.30 436.20,325.40 447.70,334.70 453.50,338.80 457.00,340.40 459.30,341.60 463.90,343.40 467.40,339.30 469.70,337.70 473.10,338.10 475.50,339.30 477.80,337.00 480.50,333.50 484.70,337.00 491.60,341.60 496.70,345.30" fill="none" stroke="#00f400" stroke-width="1.9" stroke-linejoin="round"/>
<path d="M335.50,425.30 L335.50,281.20 L504.80,281.20 L504.80,425.30 Z" fill="none" stroke="#000" stroke-width="1.6"/>
<line x1="331.30" y1="285.60" x2="335.50" y2="285.60" stroke="#000" stroke-width="1.2"/>
<text x="325.90" y="288.80" font-size="9.5" fill="#111" stroke="#111" stroke-width="0.22" text-anchor="end" textLength="12.60" lengthAdjust="spacingAndGlyphs">0.5</text>
<line x1="331.30" y1="297.60" x2="335.50" y2="297.60" stroke="#000" stroke-width="1.2"/>
<text x="325.90" y="300.80" font-size="9.5" fill="#111" stroke="#111" stroke-width="0.22" text-anchor="end" textLength="12.60" lengthAdjust="spacingAndGlyphs">0.4</text>
<line x1="331.30" y1="309.60" x2="335.50" y2="309.60" stroke="#000" stroke-width="1.2"/>
<text x="325.90" y="312.80" font-size="9.5" fill="#111" stroke="#111" stroke-width="0.22" text-anchor="end" textLength="12.60" lengthAdjust="spacingAndGlyphs">0.3</text>
<line x1="331.30" y1="321.60" x2="335.50" y2="321.60" stroke="#000" stroke-width="1.2"/>
<text x="325.90" y="324.80" font-size="9.5" fill="#111" stroke="#111" stroke-width="0.22" text-anchor="end" textLength="12.60" lengthAdjust="spacingAndGlyphs">0.2</text>
<line x1="331.30" y1="333.60" x2="335.50" y2="333.60" stroke="#000" stroke-width="1.2"/>
<text x="325.90" y="336.80" font-size="9.5" fill="#111" stroke="#111" stroke-width="0.22" text-anchor="end" textLength="12.60" lengthAdjust="spacingAndGlyphs">0.1</text>
<line x1="331.30" y1="345.60" x2="335.50" y2="345.60" stroke="#000" stroke-width="1.2"/>
<text x="325.90" y="348.80" font-size="9.5" fill="#111" stroke="#111" stroke-width="0.22" text-anchor="end" textLength="12.60" lengthAdjust="spacingAndGlyphs">0.0</text>
<text x="330.00" y="382.80" font-size="8.4" fill="#111" stroke="#111" stroke-width="0.22" text-anchor="end" textLength="4.60" lengthAdjust="spacingAndGlyphs">3</text>
<text x="330.00" y="390.80" font-size="8.4" fill="#111" stroke="#111" stroke-width="0.22" text-anchor="end" textLength="4.60" lengthAdjust="spacingAndGlyphs">2</text>
<text x="330.00" y="397.60" font-size="8.4" fill="#111" stroke="#111" stroke-width="0.22" text-anchor="end" textLength="4.60" lengthAdjust="spacingAndGlyphs">1</text>
<text x="330.00" y="405.00" font-size="8.4" fill="#111" stroke="#111" stroke-width="0.22" text-anchor="end" textLength="4.60" lengthAdjust="spacingAndGlyphs">0</text>
<text x="330.00" y="412.20" font-size="8.4" fill="#111" stroke="#111" stroke-width="0.22" text-anchor="end" textLength="6.60" lengthAdjust="spacingAndGlyphs">-1</text>
<text x="330.00" y="419.90" font-size="8.4" fill="#111" stroke="#111" stroke-width="0.22" text-anchor="end" textLength="6.60" lengthAdjust="spacingAndGlyphs">-2</text>
<text x="330.00" y="426.70" font-size="8.4" fill="#111" stroke="#111" stroke-width="0.22" text-anchor="end" textLength="6.60" lengthAdjust="spacingAndGlyphs">-3</text>
<line x1="335.50" y1="425.30" x2="335.50" y2="428.90" stroke="#000" stroke-width="1.2"/>
<text x="0" y="0" font-size="8.6" fill="#111" stroke="#111" stroke-width="0.22" text-anchor="end" transform="translate(339.50,440.10) rotate(-45)">0</text>
<line x1="351.35" y1="425.30" x2="351.35" y2="428.90" stroke="#000" stroke-width="1.2"/>
<text x="0" y="0" font-size="8.6" fill="#111" stroke="#111" stroke-width="0.22" text-anchor="end" transform="translate(355.35,440.10) rotate(-45)">2,500</text>
<line x1="367.20" y1="425.30" x2="367.20" y2="428.90" stroke="#000" stroke-width="1.2"/>
<text x="0" y="0" font-size="8.6" fill="#111" stroke="#111" stroke-width="0.22" text-anchor="end" transform="translate(371.20,440.10) rotate(-45)">5,000</text>
<line x1="383.05" y1="425.30" x2="383.05" y2="428.90" stroke="#000" stroke-width="1.2"/>
<text x="0" y="0" font-size="8.6" fill="#111" stroke="#111" stroke-width="0.22" text-anchor="end" transform="translate(387.05,440.10) rotate(-45)">7,500</text>
<line x1="398.90" y1="425.30" x2="398.90" y2="428.90" stroke="#000" stroke-width="1.2"/>
<text x="0" y="0" font-size="8.6" fill="#111" stroke="#111" stroke-width="0.22" text-anchor="end" transform="translate(402.90,440.10) rotate(-45)">10,000</text>
<line x1="414.75" y1="425.30" x2="414.75" y2="428.90" stroke="#000" stroke-width="1.2"/>
<text x="0" y="0" font-size="8.6" fill="#111" stroke="#111" stroke-width="0.22" text-anchor="end" transform="translate(418.75,440.10) rotate(-45)">12,500</text>
<line x1="430.60" y1="425.30" x2="430.60" y2="428.90" stroke="#000" stroke-width="1.2"/>
<text x="0" y="0" font-size="8.6" fill="#111" stroke="#111" stroke-width="0.22" text-anchor="end" transform="translate(434.60,440.10) rotate(-45)">15,000</text>
<line x1="446.45" y1="425.30" x2="446.45" y2="428.90" stroke="#000" stroke-width="1.2"/>
<text x="0" y="0" font-size="8.6" fill="#111" stroke="#111" stroke-width="0.22" text-anchor="end" transform="translate(450.45,440.10) rotate(-45)">17,500</text>
<line x1="462.30" y1="425.30" x2="462.30" y2="428.90" stroke="#000" stroke-width="1.2"/>
<text x="0" y="0" font-size="8.6" fill="#111" stroke="#111" stroke-width="0.22" text-anchor="end" transform="translate(466.30,440.10) rotate(-45)">20,000</text>
<line x1="478.15" y1="425.30" x2="478.15" y2="428.90" stroke="#000" stroke-width="1.2"/>
<text x="0" y="0" font-size="8.6" fill="#111" stroke="#111" stroke-width="0.22" text-anchor="end" transform="translate(482.15,440.10) rotate(-45)">22,500</text>
<line x1="494.00" y1="425.30" x2="494.00" y2="428.90" stroke="#000" stroke-width="1.2"/>
<text x="0" y="0" font-size="8.6" fill="#111" stroke="#111" stroke-width="0.22" text-anchor="end" transform="translate(498.00,440.10) rotate(-45)">25,000</text>
<text x="374.20" y="477.00" font-size="12.8" fill="#111" stroke="#111" stroke-width="0.5" textLength="92.20" lengthAdjust="spacingAndGlyphs">Rank in ordered dataset</text>
<text x="0" y="0" font-size="11.5" fill="#111" stroke="#111" stroke-width="0.45" text-anchor="middle" textLength="42.50" lengthAdjust="spacingAndGlyphs" transform="translate(288.90,315.00) rotate(-90)">Enrichment</text>
<text x="0" y="0" font-size="11.5" fill="#111" stroke="#111" stroke-width="0.45" text-anchor="middle" textLength="38.80" lengthAdjust="spacingAndGlyphs" transform="translate(305.20,315.60) rotate(-90)">score (ES)</text>
<text x="0" y="0" font-size="11.5" fill="#111" stroke="#111" stroke-width="0.45" text-anchor="middle" textLength="68.70" lengthAdjust="spacingAndGlyphs" transform="translate(288.90,401.90) rotate(-90)">Ranked list metric</text>
<text x="0" y="0" font-size="11.5" fill="#111" stroke="#111" stroke-width="0.45" text-anchor="middle" textLength="52.70" lengthAdjust="spacingAndGlyphs" transform="translate(305.20,402.40) rotate(-90)">(signal2noise)</text>
<text x="427.40" y="296.10" font-size="8.4" fill="#111" stroke="#111" stroke-width="0.08" textLength="40.70" lengthAdjust="spacingAndGlyphs">FDR q-value</text>
<text x="472.70" y="296.10" font-size="8.4" fill="#111" stroke="#111" stroke-width="0.08" textLength="15.50" lengthAdjust="spacingAndGlyphs">0.53</text>
<text x="427.40" y="305.80" font-size="8.4" fill="#111" stroke="#111" stroke-width="0.08" textLength="25.5" lengthAdjust="spacingAndGlyphs"><tspan font-style="italic">p</tspan>-Value</text>
<text x="472.70" y="305.80" font-size="8.4" fill="#111" stroke="#111" stroke-width="0.08" textLength="15.50" lengthAdjust="spacingAndGlyphs">0.01</text>
<line x1="290.00" y1="488.60" x2="297.00" y2="488.60" stroke="#50aa3c" stroke-width="1.2"/>
<text x="301.50" y="491.40" font-size="8" fill="#333" stroke="#333" stroke-width="0.22" textLength="59.50" lengthAdjust="spacingAndGlyphs">Enrichment profile</text>
<line x1="370.50" y1="488.60" x2="376.80" y2="488.60" stroke="#111" stroke-width="1.3"/>
<text x="381.30" y="491.40" font-size="8" fill="#333" stroke="#333" stroke-width="0.22" textLength="13.20" lengthAdjust="spacingAndGlyphs">Hits</text>
<line x1="399.50" y1="487.30" x2="405.30" y2="487.30" stroke="#c8c8c8" stroke-width="0.9"/>
<line x1="411.00" y1="489.10" x2="417.00" y2="489.10" stroke="#c8c8c8" stroke-width="0.9"/>
<text x="422.00" y="491.40" font-size="8" fill="#333" stroke="#333" stroke-width="0.22" textLength="73.80" lengthAdjust="spacingAndGlyphs">Ranking metric scores</text>
<text x="345.00" y="545.00" font-size="12" fill="#111" stroke="#111" stroke-width="0.22" textLength="162.50" lengthAdjust="spacingAndGlyphs">CAM enrichment plot in JeKo-1</text>
<line x1="343.30" y1="553.10" x2="507.40" y2="553.10" stroke="#efefef" stroke-width="0.8"/>
<line x1="343.30" y1="562.55" x2="507.40" y2="562.55" stroke="#efefef" stroke-width="0.8"/>
<line x1="343.30" y1="572.00" x2="507.40" y2="572.00" stroke="#efefef" stroke-width="0.8"/>
<line x1="343.30" y1="581.45" x2="507.40" y2="581.45" stroke="#efefef" stroke-width="0.8"/>
<line x1="343.30" y1="590.90" x2="507.40" y2="590.90" stroke="#efefef" stroke-width="0.8"/>
<line x1="343.30" y1="600.35" x2="507.40" y2="600.35" stroke="#efefef" stroke-width="0.8"/>
<line x1="343.30" y1="619.25" x2="507.40" y2="619.25" stroke="#efefef" stroke-width="0.8"/>
<line x1="374.20" y1="552.30" x2="374.20" y2="621.70" stroke="#efefef" stroke-width="0.8"/>
<line x1="374.20" y1="650.90" x2="374.20" y2="697.30" stroke="#f0f0f0" stroke-width="0.8" stroke-dasharray="1,1"/>
<line x1="405.10" y1="552.30" x2="405.10" y2="621.70" stroke="#efefef" stroke-width="0.8"/>
<line x1="405.10" y1="650.90" x2="405.10" y2="697.30" stroke="#f0f0f0" stroke-width="0.8" stroke-dasharray="1,1"/>
<line x1="436.00" y1="552.30" x2="436.00" y2="621.70" stroke="#efefef" stroke-width="0.8"/>
<line x1="436.00" y1="650.90" x2="436.00" y2="697.30" stroke="#f0f0f0" stroke-width="0.8" stroke-dasharray="1,1"/>
<line x1="466.90" y1="552.30" x2="466.90" y2="621.70" stroke="#efefef" stroke-width="0.8"/>
<line x1="466.90" y1="650.90" x2="466.90" y2="697.30" stroke="#f0f0f0" stroke-width="0.8" stroke-dasharray="1,1"/>
<line x1="497.80" y1="552.30" x2="497.80" y2="621.70" stroke="#efefef" stroke-width="0.8"/>
<line x1="497.80" y1="650.90" x2="497.80" y2="697.30" stroke="#f0f0f0" stroke-width="0.8" stroke-dasharray="1,1"/>
<line x1="343.30" y1="609.80" x2="507.40" y2="609.80" stroke="#d4d4d4" stroke-width="1.2"/>
<line x1="343.30" y1="652.50" x2="507.40" y2="652.50" stroke="#f0f0f0" stroke-width="0.8" stroke-dasharray="1,1"/>
<line x1="343.30" y1="663.75" x2="507.40" y2="663.75" stroke="#f0f0f0" stroke-width="0.8" stroke-dasharray="1,1"/>
<line x1="343.30" y1="688.00" x2="507.40" y2="688.00" stroke="#f0f0f0" stroke-width="0.8" stroke-dasharray="1,1"/>
<line x1="343.30" y1="621.90" x2="507.40" y2="621.90" stroke="#d0d0d0" stroke-width="0.8"/>
<line x1="343.30" y1="645.20" x2="507.40" y2="645.20" stroke="#d8d8d8" stroke-width="0.8"/>
<line x1="343.30" y1="651.20" x2="507.40" y2="651.20" stroke="#c8c8c8" stroke-width="0.8"/>
<g filter="url(#hb)">
<rect x="344.00" y="622.70" width="3.00" height="22.50" fill="rgb(24,24,24)"/>
<rect x="347.00" y="622.70" width="1.00" height="22.50" fill="rgb(144,144,144)"/>
<rect x="350.00" y="622.70" width="3.00" height="22.50" fill="rgb(32,32,32)"/>
<rect x="355.50" y="622.70" width="2.50" height="22.50" fill="rgb(37,37,37)"/>
<rect x="358.00" y="622.70" width="2.00" height="22.50" fill="rgb(80,80,80)"/>
<rect x="360.00" y="622.70" width="2.00" height="22.50" fill="rgb(128,128,128)"/>
<rect x="362.00" y="622.70" width="2.50" height="22.50" fill="rgb(192,192,192)"/>
<rect x="364.50" y="622.70" width="3.00" height="22.50" fill="rgb(80,80,80)"/>
<rect x="367.50" y="622.70" width="1.50" height="22.50" fill="rgb(208,208,208)"/>
<rect x="369.00" y="622.70" width="3.00" height="22.50" fill="rgb(112,112,112)"/>
<rect x="379.00" y="622.70" width="1.00" height="22.50" fill="rgb(144,144,144)"/>
<rect x="381.50" y="622.70" width="2.50" height="22.50" fill="rgb(176,176,176)"/>
<rect x="386.50" y="622.70" width="1.50" height="22.50" fill="rgb(80,80,80)"/>
<rect x="389.00" y="622.70" width="2.00" height="22.50" fill="rgb(192,192,192)"/>
<rect x="395.50" y="622.70" width="1.00" height="22.50" fill="rgb(128,128,128)"/>
<rect x="401.00" y="622.70" width="1.00" height="22.50" fill="rgb(64,64,64)"/>
<rect x="409.50" y="622.70" width="1.00" height="22.50" fill="rgb(176,176,176)"/>
<rect x="420.00" y="622.70" width="1.00" height="22.50" fill="rgb(112,112,112)"/>
<rect x="428.00" y="622.70" width="1.00" height="22.50" fill="rgb(192,192,192)"/>
<rect x="429.50" y="622.70" width="3.50" height="22.50" fill="rgb(168,168,168)"/>
<rect x="433.00" y="622.70" width="1.00" height="22.50" fill="rgb(80,80,80)"/>
<rect x="436.00" y="622.70" width="1.50" height="22.50" fill="rgb(32,32,32)"/>
<rect x="440.00" y="622.70" width="2.00" height="22.50" fill="rgb(144,144,144)"/>
<rect x="442.00" y="622.70" width="1.00" height="22.50" fill="rgb(160,160,160)"/>
<rect x="444.00" y="622.70" width="2.00" height="22.50" fill="rgb(144,144,144)"/>
<rect x="448.00" y="622.70" width="3.00" height="22.50" fill="rgb(144,144,144)"/>
<rect x="453.00" y="622.70" width="4.00" height="22.50" fill="rgb(192,192,192)"/>
<rect x="458.00" y="622.70" width="2.00" height="22.50" fill="rgb(112,112,112)"/>
<rect x="460.00" y="622.70" width="1.50" height="22.50" fill="rgb(200,200,200)"/>
<rect x="461.50" y="622.70" width="2.00" height="22.50" fill="rgb(144,144,144)"/>
<rect x="466.00" y="622.70" width="2.50" height="22.50" fill="rgb(128,128,128)"/>
<rect x="468.50" y="622.70" width="1.50" height="22.50" fill="rgb(200,200,200)"/>
<rect x="470.00" y="622.70" width="1.50" height="22.50" fill="rgb(128,128,128)"/>
<rect x="474.00" y="622.70" width="2.50" height="22.50" fill="rgb(144,144,144)"/>
<rect x="476.50" y="622.70" width="1.50" height="22.50" fill="rgb(192,192,192)"/>
<rect x="479.50" y="622.70" width="2.00" height="22.50" fill="rgb(160,160,160)"/>
<rect x="481.50" y="622.70" width="0.90" height="22.50" fill="rgb(192,192,192)"/>
<rect x="482.30" y="622.70" width="3.50" height="22.50" fill="rgb(160,160,160)"/>
<rect x="485.80" y="622.70" width="1.20" height="22.50" fill="rgb(96,96,96)"/>
<rect x="487.00" y="622.70" width="1.70" height="22.50" fill="rgb(160,160,160)"/>
<rect x="488.70" y="622.70" width="4.30" height="22.50" fill="rgb(112,112,112)"/>
<rect x="495.00" y="622.70" width="4.00" height="22.50" fill="rgb(153,153,153)"/>
<rect x="499.00" y="622.70" width="1.00" height="22.50" fill="rgb(112,112,112)"/>
</g>
<rect x="344.10" y="645.20" width="28.50" height="5.70" fill="#f24a4a"/>
<rect x="372.60" y="645.20" width="12.40" height="5.70" fill="#ee6a74"/>
<rect x="385.30" y="645.20" width="63.90" height="5.70" fill="#f8b4dc"/>
<rect x="449.20" y="645.20" width="31.80" height="5.70" fill="#c8c8f8"/>
<rect x="481.00" y="645.20" width="16.00" height="5.70" fill="#6262ec"/>
<rect x="497.00" y="645.20" width="3.00" height="5.70" fill="#1414c8"/>
<text x="345.00" y="654.60" font-size="4.4" fill="#ff6262" textLength="52.50" lengthAdjust="spacingAndGlyphs">DMSO (positively correlated)</text>
<text x="425.70" y="696.00" font-size="4.4" fill="#4848f0" stroke="#4848f0" stroke-width="0.04" textLength="57.00" lengthAdjust="spacingAndGlyphs">Ibrutinib (negatively correlated)</text>
<path d="M344.1,676.2 L344.1,662 C346,668 349,671.5 356,673.3 C365,674.6 380,675.3 394.2,675.8 L394.2,676.2 Z M394.2,676.2 L452,676.0 L452,676.6 C470,677.2 485,678.3 492,679.5 C497,681 498.5,683 499.5,688 L500,695 L500,675.8 Z" fill="#bdbdbd"/>
<line x1="394.20" y1="651.90" x2="394.20" y2="697.30" stroke="#c0c0c0" stroke-width="0.8" stroke-dasharray="1,1.2"/>
<text x="379.20" y="676.30" font-size="4.6" fill="#333" stroke="#333" stroke-width="0.05" textLength="29.80" lengthAdjust="spacingAndGlyphs">Zero cross at 8308</text>
<polyline points="344.20,597.00 344.60,591.30 344.90,584.30 345.80,574.00 347.00,566.20 348.40,563.20 349.80,564.40 351.50,561.80 353.20,559.80 355.30,559.20 357.40,557.00 359.60,556.30 362.20,555.30 364.80,555.80 367.40,555.80 370.00,556.30 372.60,557.00 375.20,558.70 390.00,567.00 402.50,574.50 415.00,582.00 427.50,590.00 440.00,597.50 452.50,605.00 465.00,611.25 472.50,614.50 480.00,617.50 485.00,618.75 490.00,617.50 493.75,615.00 496.25,616.25 498.00,612.50 500.00,608.75" fill="none" stroke="#00f400" stroke-width="1.9" stroke-linejoin="round"/>
<path d="M343.30,697.30 L343.30,552.30 L507.40,552.30 L507.40,697.30 Z" fill="none" stroke="#000" stroke-width="1.6"/>
<line x1="339.10" y1="553.10" x2="343.30" y2="553.10" stroke="#000" stroke-width="1.2"/>
<text x="333.70" y="556.30" font-size="9.5" fill="#111" stroke="#111" stroke-width="0.22" text-anchor="end" textLength="12.60" lengthAdjust="spacingAndGlyphs">0.6</text>
<line x1="339.10" y1="562.55" x2="343.30" y2="562.55" stroke="#000" stroke-width="1.2"/>
<text x="333.70" y="565.75" font-size="9.5" fill="#111" stroke="#111" stroke-width="0.22" text-anchor="end" textLength="12.60" lengthAdjust="spacingAndGlyphs">0.5</text>
<line x1="339.10" y1="572.00" x2="343.30" y2="572.00" stroke="#000" stroke-width="1.2"/>
<text x="333.70" y="575.20" font-size="9.5" fill="#111" stroke="#111" stroke-width="0.22" text-anchor="end" textLength="12.60" lengthAdjust="spacingAndGlyphs">0.4</text>
<line x1="339.10" y1="581.45" x2="343.30" y2="581.45" stroke="#000" stroke-width="1.2"/>
<text x="333.70" y="584.65" font-size="9.5" fill="#111" stroke="#111" stroke-width="0.22" text-anchor="end" textLength="12.60" lengthAdjust="spacingAndGlyphs">0.3</text>
<line x1="339.10" y1="590.90" x2="343.30" y2="590.90" stroke="#000" stroke-width="1.2"/>
<text x="333.70" y="594.10" font-size="9.5" fill="#111" stroke="#111" stroke-width="0.22" text-anchor="end" textLength="12.60" lengthAdjust="spacingAndGlyphs">0.2</text>
<line x1="339.10" y1="600.35" x2="343.30" y2="600.35" stroke="#000" stroke-width="1.2"/>
<text x="333.70" y="603.55" font-size="9.5" fill="#111" stroke="#111" stroke-width="0.22" text-anchor="end" textLength="12.60" lengthAdjust="spacingAndGlyphs">0.1</text>
<line x1="339.10" y1="609.80" x2="343.30" y2="609.80" stroke="#000" stroke-width="1.2"/>
<text x="333.70" y="613.00" font-size="9.5" fill="#111" stroke="#111" stroke-width="0.22" text-anchor="end" textLength="12.60" lengthAdjust="spacingAndGlyphs">0.0</text>
<line x1="339.10" y1="619.25" x2="343.30" y2="619.25" stroke="#000" stroke-width="1.2"/>
<text x="333.70" y="622.45" font-size="9.5" fill="#111" stroke="#111" stroke-width="0.22" text-anchor="end" textLength="14.80" lengthAdjust="spacingAndGlyphs">-0.1</text>
<text x="338.00" y="655.30" font-size="9.5" fill="#111" stroke="#111" stroke-width="0.22" text-anchor="end" textLength="12.60" lengthAdjust="spacingAndGlyphs">5.0</text>
<text x="338.00" y="666.55" font-size="9.5" fill="#111" stroke="#111" stroke-width="0.22" text-anchor="end" textLength="12.60" lengthAdjust="spacingAndGlyphs">2.5</text>
<text x="338.00" y="678.30" font-size="9.5" fill="#111" stroke="#111" stroke-width="0.22" text-anchor="end" textLength="12.60" lengthAdjust="spacingAndGlyphs">0.0</text>
<text x="338.00" y="690.80" font-size="9.5" fill="#111" stroke="#111" stroke-width="0.22" text-anchor="end" textLength="15.60" lengthAdjust="spacingAndGlyphs">-2.5</text>
<line x1="343.30" y1="697.30" x2="343.30" y2="700.90" stroke="#000" stroke-width="1.2"/>
<text x="0" y="0" font-size="8.9" fill="#111" stroke="#111" stroke-width="0.22" text-anchor="end" transform="translate(346.80,711.30) rotate(-45)">0</text>
<line x1="374.20" y1="697.30" x2="374.20" y2="700.90" stroke="#000" stroke-width="1.2"/>
<text x="0" y="0" font-size="8.9" fill="#111" stroke="#111" stroke-width="0.22" text-anchor="end" transform="translate(377.70,711.30) rotate(-45)">5,000</text>
<line x1="405.10" y1="697.30" x2="405.10" y2="700.90" stroke="#000" stroke-width="1.2"/>
<text x="0" y="0" font-size="8.9" fill="#111" stroke="#111" stroke-width="0.22" text-anchor="end" transform="translate(408.60,711.30) rotate(-45)">10,000</text>
<line x1="436.00" y1="697.30" x2="436.00" y2="700.90" stroke="#000" stroke-width="1.2"/>
<text x="0" y="0" font-size="8.9" fill="#111" stroke="#111" stroke-width="0.22" text-anchor="end" transform="translate(439.50,711.30) rotate(-45)">15,000</text>
<line x1="466.90" y1="697.30" x2="466.90" y2="700.90" stroke="#000" stroke-width="1.2"/>
<text x="0" y="0" font-size="8.9" fill="#111" stroke="#111" stroke-width="0.22" text-anchor="end" transform="translate(470.40,711.30) rotate(-45)">20,000</text>
<line x1="497.80" y1="697.30" x2="497.80" y2="700.90" stroke="#000" stroke-width="1.2"/>
<text x="0" y="0" font-size="8.9" fill="#111" stroke="#111" stroke-width="0.22" text-anchor="end" transform="translate(501.30,711.30) rotate(-45)">25,000</text>
<text x="379.30" y="749.20" font-size="12.8" fill="#111" stroke="#111" stroke-width="0.5" textLength="91.40" lengthAdjust="spacingAndGlyphs">Rank in ordered dataset</text>
<text x="0" y="0" font-size="11.5" fill="#111" stroke="#111" stroke-width="0.45" text-anchor="middle" textLength="42.50" lengthAdjust="spacingAndGlyphs" transform="translate(294.70,586.20) rotate(-90)">Enrichment</text>
<text x="0" y="0" font-size="11.5" fill="#111" stroke="#111" stroke-width="0.45" text-anchor="middle" textLength="40.00" lengthAdjust="spacingAndGlyphs" transform="translate(310.20,586.20) rotate(-90)">score (ES)</text>
<text x="0" y="0" font-size="11.5" fill="#111" stroke="#111" stroke-width="0.45" text-anchor="middle" textLength="68.30" lengthAdjust="spacingAndGlyphs" transform="translate(293.90,670.40) rotate(-90)">Ranked list metric</text>
<text x="0" y="0" font-size="11.5" fill="#111" stroke="#111" stroke-width="0.45" text-anchor="middle" textLength="51.20" lengthAdjust="spacingAndGlyphs" transform="translate(310.70,670.60) rotate(-90)">(signal2noise)</text>
<text x="435.50" y="569.25" font-size="8.4" fill="#111" stroke="#111" stroke-width="0.08" textLength="40.70" lengthAdjust="spacingAndGlyphs">FDR q-value</text>
<text x="481.25" y="569.25" font-size="8.4" fill="#111" stroke="#111" stroke-width="0.08" textLength="19.25" lengthAdjust="spacingAndGlyphs">0.008</text>
<text x="435.50" y="578.25" font-size="8.4" fill="#111" stroke="#111" stroke-width="0.08" textLength="25.5" lengthAdjust="spacingAndGlyphs"><tspan font-style="italic">p</tspan>-Value</text>
<text x="481.25" y="578.25" font-size="8.4" fill="#111" stroke="#111" stroke-width="0.08" textLength="23.25" lengthAdjust="spacingAndGlyphs">&lt;0.001</text>
<line x1="293.30" y1="760.10" x2="300.30" y2="760.10" stroke="#50aa3c" stroke-width="1.2"/>
<text x="304.80" y="762.90" font-size="8" fill="#333" stroke="#333" stroke-width="0.22" textLength="59.50" lengthAdjust="spacingAndGlyphs">Enrichment profile</text>
<line x1="373.80" y1="760.10" x2="380.10" y2="760.10" stroke="#111" stroke-width="1.3"/>
<text x="384.60" y="762.90" font-size="8" fill="#333" stroke="#333" stroke-width="0.22" textLength="13.20" lengthAdjust="spacingAndGlyphs">Hits</text>
<line x1="402.80" y1="758.80" x2="408.60" y2="758.80" stroke="#c8c8c8" stroke-width="0.9"/>
<line x1="414.30" y1="760.60" x2="420.30" y2="760.60" stroke="#c8c8c8" stroke-width="0.9"/>
<text x="425.30" y="762.90" font-size="8" fill="#333" stroke="#333" stroke-width="0.22" textLength="73.80" lengthAdjust="spacingAndGlyphs">Ranking metric scores</text>
<text x="328.70" y="780.00" font-size="12" fill="#111" stroke="#111" stroke-width="0.22" textLength="178.30" lengthAdjust="spacingAndGlyphs">CAM enrichment plot in MAVER-1</text>
<line x1="335.50" y1="789.15" x2="497.40" y2="789.15" stroke="#efefef" stroke-width="0.8"/>
<line x1="335.50" y1="798.78" x2="497.40" y2="798.78" stroke="#efefef" stroke-width="0.8"/>
<line x1="335.50" y1="808.41" x2="497.40" y2="808.41" stroke="#efefef" stroke-width="0.8"/>
<line x1="335.50" y1="818.04" x2="497.40" y2="818.04" stroke="#efefef" stroke-width="0.8"/>
<line x1="335.50" y1="827.67" x2="497.40" y2="827.67" stroke="#efefef" stroke-width="0.8"/>
<line x1="335.50" y1="846.93" x2="497.40" y2="846.93" stroke="#efefef" stroke-width="0.8"/>
<line x1="335.50" y1="856.56" x2="497.40" y2="856.56" stroke="#efefef" stroke-width="0.8"/>
<line x1="365.95" y1="787.50" x2="365.95" y2="856.80" stroke="#efefef" stroke-width="0.8"/>
<line x1="365.95" y1="886.50" x2="365.95" y2="933.80" stroke="#f0f0f0" stroke-width="0.8" stroke-dasharray="1,1"/>
<line x1="396.40" y1="787.50" x2="396.40" y2="856.80" stroke="#efefef" stroke-width="0.8"/>
<line x1="396.40" y1="886.50" x2="396.40" y2="933.80" stroke="#f0f0f0" stroke-width="0.8" stroke-dasharray="1,1"/>
<line x1="426.85" y1="787.50" x2="426.85" y2="856.80" stroke="#efefef" stroke-width="0.8"/>
<line x1="426.85" y1="886.50" x2="426.85" y2="933.80" stroke="#f0f0f0" stroke-width="0.8" stroke-dasharray="1,1"/>
<line x1="457.30" y1="787.50" x2="457.30" y2="856.80" stroke="#efefef" stroke-width="0.8"/>
<line x1="457.30" y1="886.50" x2="457.30" y2="933.80" stroke="#f0f0f0" stroke-width="0.8" stroke-dasharray="1,1"/>
<line x1="487.75" y1="787.50" x2="487.75" y2="856.80" stroke="#efefef" stroke-width="0.8"/>
<line x1="487.75" y1="886.50" x2="487.75" y2="933.80" stroke="#f0f0f0" stroke-width="0.8" stroke-dasharray="1,1"/>
<line x1="335.50" y1="837.30" x2="497.40" y2="837.30" stroke="#d4d4d4" stroke-width="1.2"/>
<line x1="335.50" y1="894.30" x2="497.40" y2="894.30" stroke="#f0f0f0" stroke-width="0.8" stroke-dasharray="1,1"/>
<line x1="335.50" y1="901.50" x2="497.40" y2="901.50" stroke="#f0f0f0" stroke-width="0.8" stroke-dasharray="1,1"/>
<line x1="335.50" y1="916.00" x2="497.40" y2="916.00" stroke="#f0f0f0" stroke-width="0.8" stroke-dasharray="1,1"/>
<line x1="335.50" y1="923.30" x2="497.40" y2="923.30" stroke="#f0f0f0" stroke-width="0.8" stroke-dasharray="1,1"/>
<line x1="335.50" y1="857.00" x2="497.40" y2="857.00" stroke="#d0d0d0" stroke-width="0.8"/>
<line x1="335.50" y1="880.90" x2="497.40" y2="880.90" stroke="#d8d8d8" stroke-width="0.8"/>
<line x1="335.50" y1="886.80" x2="497.40" y2="886.80" stroke="#c8c8c8" stroke-width="0.8"/>
<g filter="url(#hb)">
<rect x="336.00" y="857.80" width="2.50" height="23.10" fill="rgb(176,176,176)"/>
<rect x="338.50" y="857.80" width="1.50" height="23.10" fill="rgb(112,112,112)"/>
<rect x="340.00" y="857.80" width="1.00" height="23.10" fill="rgb(80,80,80)"/>
<rect x="341.00" y="857.80" width="3.00" height="23.10" fill="rgb(112,112,112)"/>
<rect x="345.50" y="857.80" width="1.00" height="23.10" fill="rgb(192,192,192)"/>
<rect x="346.50" y="857.80" width="1.50" height="23.10" fill="rgb(16,16,16)"/>
<rect x="350.00" y="857.80" width="4.00" height="23.10" fill="rgb(136,136,136)"/>
<rect x="354.00" y="857.80" width="1.00" height="23.10" fill="rgb(96,96,96)"/>
<rect x="355.00" y="857.80" width="2.00" height="23.10" fill="rgb(128,128,128)"/>
<rect x="357.00" y="857.80" width="2.00" height="23.10" fill="rgb(96,96,96)"/>
<rect x="359.00" y="857.80" width="3.00" height="23.10" fill="rgb(144,144,144)"/>
<rect x="364.00" y="857.80" width="1.50" height="23.10" fill="rgb(200,200,200)"/>
<rect x="367.00" y="857.80" width="4.00" height="23.10" fill="rgb(128,128,128)"/>
<rect x="374.00" y="857.80" width="3.50" height="23.10" fill="rgb(96,96,96)"/>
<rect x="383.00" y="857.80" width="2.50" height="23.10" fill="rgb(176,176,176)"/>
<rect x="389.00" y="857.80" width="2.50" height="23.10" fill="rgb(64,64,64)"/>
<rect x="400.00" y="857.80" width="0.90" height="23.10" fill="rgb(144,144,144)"/>
<rect x="410.50" y="857.80" width="1.50" height="23.10" fill="rgb(112,112,112)"/>
<rect x="420.50" y="857.80" width="1.00" height="23.10" fill="rgb(200,200,200)"/>
<rect x="422.00" y="857.80" width="3.00" height="23.10" fill="rgb(176,176,176)"/>
<rect x="426.00" y="857.80" width="1.20" height="23.10" fill="rgb(32,32,32)"/>
<rect x="429.00" y="857.80" width="2.50" height="23.10" fill="rgb(128,128,128)"/>
<rect x="431.50" y="857.80" width="1.50" height="23.10" fill="rgb(200,200,200)"/>
<rect x="434.00" y="857.80" width="2.00" height="23.10" fill="rgb(160,160,160)"/>
<rect x="436.00" y="857.80" width="1.00" height="23.10" fill="rgb(96,96,96)"/>
<rect x="439.00" y="857.80" width="1.50" height="23.10" fill="rgb(176,176,176)"/>
<rect x="442.50" y="857.80" width="2.00" height="23.10" fill="rgb(144,144,144)"/>
<rect x="444.50" y="857.80" width="1.50" height="23.10" fill="rgb(96,96,96)"/>
<rect x="446.00" y="857.80" width="1.00" height="23.10" fill="rgb(144,144,144)"/>
<rect x="449.00" y="857.80" width="1.50" height="23.10" fill="rgb(192,192,192)"/>
<rect x="451.50" y="857.80" width="4.50" height="23.10" fill="rgb(192,192,192)"/>
<rect x="456.00" y="857.80" width="1.50" height="23.10" fill="rgb(112,112,112)"/>
<rect x="462.00" y="857.80" width="2.00" height="23.10" fill="rgb(144,144,144)"/>
<rect x="464.00" y="857.80" width="1.50" height="23.10" fill="rgb(96,96,96)"/>
<rect x="467.00" y="857.80" width="1.50" height="23.10" fill="rgb(144,144,144)"/>
<rect x="468.50" y="857.80" width="1.00" height="23.10" fill="rgb(200,200,200)"/>
<rect x="474.30" y="857.80" width="3.50" height="23.10" fill="rgb(184,184,184)"/>
<rect x="477.80" y="857.80" width="2.00" height="23.10" fill="rgb(96,96,96)"/>
<rect x="481.30" y="857.80" width="1.70" height="23.10" fill="rgb(32,32,32)"/>
<rect x="483.00" y="857.80" width="1.70" height="23.10" fill="rgb(176,176,176)"/>
<rect x="484.70" y="857.80" width="1.50" height="23.10" fill="rgb(112,112,112)"/>
<rect x="487.90" y="857.80" width="1.10" height="23.10" fill="rgb(80,80,80)"/>
</g>
<rect x="336.30" y="880.90" width="30.00" height="5.60" fill="#f24a4a"/>
<rect x="366.30" y="880.90" width="10.10" height="5.60" fill="#ef6c78"/>
<rect x="376.40" y="880.90" width="67.40" height="5.60" fill="#f8b4dc"/>
<rect x="443.80" y="880.90" width="31.10" height="5.60" fill="#c8c8f8"/>
<rect x="474.90" y="880.90" width="14.10" height="5.60" fill="#6262ec"/>
<rect x="489.00" y="880.90" width="1.40" height="5.60" fill="#1414c8"/>
<text x="336.60" y="890.00" font-size="4.4" fill="#ff6262" textLength="53.00" lengthAdjust="spacingAndGlyphs">DMSO (positively correlated)</text>
<text x="416.00" y="932.30" font-size="4.4" fill="#4848f0" stroke="#4848f0" stroke-width="0.04" textLength="57.80" lengthAdjust="spacingAndGlyphs">Ibrutinib (negatively correlated)</text>
<path d="M336.3,910.0 L336.3,903.4 C338,905.5 341,906.3 346,906.8 C356,907.8 370,908.8 382,909.4 L382,910.0 Z M382,910.0 L444,909.8 L444,910.3 C462,910.8 476,911.6 483,912.6 C488,913.6 489.5,916 490.2,921 L490.4,928.5 L490.4,909.6 Z" fill="#bdbdbd"/>
<line x1="382.80" y1="887.50" x2="382.80" y2="933.80" stroke="#c0c0c0" stroke-width="0.8" stroke-dasharray="1,1.2"/>
<text x="368.00" y="911.80" font-size="4.6" fill="#333" stroke="#333" stroke-width="0.05" textLength="29.50" lengthAdjust="spacingAndGlyphs">Zero cross at 7648</text>
<polyline points="336.10,822.80 336.90,820.20 338.70,818.50 340.40,813.30 342.10,809.00 343.50,803.40 344.70,802.40 347.00,802.40 348.20,799.40 349.90,797.70 351.60,796.00 354.20,793.70 356.80,791.70 359.40,790.30 362.00,790.80 364.60,792.00 367.20,793.00 370.70,793.70 374.10,795.50 377.60,797.20 390.00,804.50 402.50,812.00 415.00,819.50 427.50,827.00 440.00,835.00 452.50,842.50 462.50,848.75 465.00,849.50 470.00,851.25 473.75,853.75 476.25,853.75 478.75,850.00 481.25,849.50 483.00,846.25 485.50,842.50 487.00,841.25 488.00,838.75 489.50,836.25 490.00,837.00" fill="none" stroke="#00f400" stroke-width="1.9" stroke-linejoin="round"/>
<path d="M335.50,933.80 L335.50,787.50 L497.40,787.50 L497.40,933.80 Z" fill="none" stroke="#000" stroke-width="1.6"/>
<line x1="331.30" y1="789.15" x2="335.50" y2="789.15" stroke="#000" stroke-width="1.2"/>
<text x="325.90" y="792.35" font-size="9.5" fill="#111" stroke="#111" stroke-width="0.22" text-anchor="end" textLength="12.60" lengthAdjust="spacingAndGlyphs">0.5</text>
<line x1="331.30" y1="798.78" x2="335.50" y2="798.78" stroke="#000" stroke-width="1.2"/>
<text x="325.90" y="801.98" font-size="9.5" fill="#111" stroke="#111" stroke-width="0.22" text-anchor="end" textLength="12.60" lengthAdjust="spacingAndGlyphs">0.4</text>
<line x1="331.30" y1="808.41" x2="335.50" y2="808.41" stroke="#000" stroke-width="1.2"/>
<text x="325.90" y="811.61" font-size="9.5" fill="#111" stroke="#111" stroke-width="0.22" text-anchor="end" textLength="12.60" lengthAdjust="spacingAndGlyphs">0.3</text>
<line x1="331.30" y1="818.04" x2="335.50" y2="818.04" stroke="#000" stroke-width="1.2"/>
<text x="325.90" y="821.24" font-size="9.5" fill="#111" stroke="#111" stroke-width="0.22" text-anchor="end" textLength="12.60" lengthAdjust="spacingAndGlyphs">0.2</text>
<line x1="331.30" y1="827.67" x2="335.50" y2="827.67" stroke="#000" stroke-width="1.2"/>
<text x="325.90" y="830.87" font-size="9.5" fill="#111" stroke="#111" stroke-width="0.22" text-anchor="end" textLength="12.60" lengthAdjust="spacingAndGlyphs">0.1</text>
<line x1="331.30" y1="837.30" x2="335.50" y2="837.30" stroke="#000" stroke-width="1.2"/>
<text x="325.90" y="840.50" font-size="9.5" fill="#111" stroke="#111" stroke-width="0.22" text-anchor="end" textLength="12.60" lengthAdjust="spacingAndGlyphs">0.0</text>
<line x1="331.30" y1="846.93" x2="335.50" y2="846.93" stroke="#000" stroke-width="1.2"/>
<text x="325.90" y="850.13" font-size="9.5" fill="#111" stroke="#111" stroke-width="0.22" text-anchor="end" textLength="14.80" lengthAdjust="spacingAndGlyphs">-0.1</text>
<line x1="331.30" y1="856.56" x2="335.50" y2="856.56" stroke="#000" stroke-width="1.2"/>
<text x="325.90" y="859.76" font-size="9.5" fill="#111" stroke="#111" stroke-width="0.22" text-anchor="end" textLength="14.80" lengthAdjust="spacingAndGlyphs">-0.2</text>
<text x="330.00" y="890.00" font-size="8.4" fill="#111" stroke="#111" stroke-width="0.22" text-anchor="end" textLength="4.60" lengthAdjust="spacingAndGlyphs">3</text>
<text x="330.00" y="897.30" font-size="8.4" fill="#111" stroke="#111" stroke-width="0.22" text-anchor="end" textLength="4.60" lengthAdjust="spacingAndGlyphs">2</text>
<text x="330.00" y="904.50" font-size="8.4" fill="#111" stroke="#111" stroke-width="0.22" text-anchor="end" textLength="4.60" lengthAdjust="spacingAndGlyphs">1</text>
<text x="330.00" y="911.75" font-size="8.4" fill="#111" stroke="#111" stroke-width="0.22" text-anchor="end" textLength="4.60" lengthAdjust="spacingAndGlyphs">0</text>
<text x="330.00" y="919.00" font-size="8.4" fill="#111" stroke="#111" stroke-width="0.22" text-anchor="end" textLength="6.60" lengthAdjust="spacingAndGlyphs">-1</text>
<text x="330.00" y="926.30" font-size="8.4" fill="#111" stroke="#111" stroke-width="0.22" text-anchor="end" textLength="6.60" lengthAdjust="spacingAndGlyphs">-2</text>
<text x="330.00" y="933.00" font-size="8.4" fill="#111" stroke="#111" stroke-width="0.22" text-anchor="end" textLength="6.60" lengthAdjust="spacingAndGlyphs">-3</text>
<line x1="335.50" y1="933.80" x2="335.50" y2="937.40" stroke="#000" stroke-width="1.2"/>
<text x="0" y="0" font-size="8.9" fill="#111" stroke="#111" stroke-width="0.22" text-anchor="end" transform="translate(339.00,947.80) rotate(-45)">0</text>
<line x1="365.95" y1="933.80" x2="365.95" y2="937.40" stroke="#000" stroke-width="1.2"/>
<text x="0" y="0" font-size="8.9" fill="#111" stroke="#111" stroke-width="0.22" text-anchor="end" transform="translate(369.45,947.80) rotate(-45)">5,000</text>
<line x1="396.40" y1="933.80" x2="396.40" y2="937.40" stroke="#000" stroke-width="1.2"/>
<text x="0" y="0" font-size="8.9" fill="#111" stroke="#111" stroke-width="0.22" text-anchor="end" transform="translate(399.90,947.80) rotate(-45)">10,000</text>
<line x1="426.85" y1="933.80" x2="426.85" y2="937.40" stroke="#000" stroke-width="1.2"/>
<text x="0" y="0" font-size="8.9" fill="#111" stroke="#111" stroke-width="0.22" text-anchor="end" transform="translate(430.35,947.80) rotate(-45)">15,000</text>
<line x1="457.30" y1="933.80" x2="457.30" y2="937.40" stroke="#000" stroke-width="1.2"/>
<text x="0" y="0" font-size="8.9" fill="#111" stroke="#111" stroke-width="0.22" text-anchor="end" transform="translate(460.80,947.80) rotate(-45)">20,000</text>
<line x1="487.75" y1="933.80" x2="487.75" y2="937.40" stroke="#000" stroke-width="1.2"/>
<text x="0" y="0" font-size="8.9" fill="#111" stroke="#111" stroke-width="0.22" text-anchor="end" transform="translate(491.25,947.80) rotate(-45)">25,000</text>
<text x="370.60" y="985.60" font-size="12.8" fill="#111" stroke="#111" stroke-width="0.5" textLength="90.30" lengthAdjust="spacingAndGlyphs">Rank in ordered dataset</text>
<text x="0" y="0" font-size="11.5" fill="#111" stroke="#111" stroke-width="0.45" text-anchor="middle" textLength="42.50" lengthAdjust="spacingAndGlyphs" transform="translate(286.40,822.50) rotate(-90)">Enrichment</text>
<text x="0" y="0" font-size="11.5" fill="#111" stroke="#111" stroke-width="0.45" text-anchor="middle" textLength="38.70" lengthAdjust="spacingAndGlyphs" transform="translate(302.70,823.10) rotate(-90)">score (ES)</text>
<text x="0" y="0" font-size="11.5" fill="#111" stroke="#111" stroke-width="0.45" text-anchor="middle" textLength="68.70" lengthAdjust="spacingAndGlyphs" transform="translate(286.40,909.40) rotate(-90)">Ranked list metric</text>
<text x="0" y="0" font-size="11.5" fill="#111" stroke="#111" stroke-width="0.45" text-anchor="middle" textLength="51.20" lengthAdjust="spacingAndGlyphs" transform="translate(302.70,910.60) rotate(-90)">(signal2noise)</text>
<text x="427.50" y="804.50" font-size="8.4" fill="#111" stroke="#111" stroke-width="0.08" textLength="40.70" lengthAdjust="spacingAndGlyphs">FDR q-value</text>
<text x="473.00" y="804.50" font-size="8.4" fill="#111" stroke="#111" stroke-width="0.08" textLength="14.50" lengthAdjust="spacingAndGlyphs">0.01</text>
<text x="427.50" y="813.75" font-size="8.4" fill="#111" stroke="#111" stroke-width="0.08" textLength="25.5" lengthAdjust="spacingAndGlyphs"><tspan font-style="italic">p</tspan>-Value</text>
<text x="473.00" y="813.75" font-size="8.4" fill="#111" stroke="#111" stroke-width="0.08" textLength="14.50" lengthAdjust="spacingAndGlyphs">0.09</text>
<line x1="288.60" y1="996.50" x2="295.60" y2="996.50" stroke="#50aa3c" stroke-width="1.2"/>
<text x="300.10" y="999.30" font-size="8" fill="#333" stroke="#333" stroke-width="0.22" textLength="59.50" lengthAdjust="spacingAndGlyphs">Enrichment profile</text>
<line x1="369.10" y1="996.50" x2="375.40" y2="996.50" stroke="#111" stroke-width="1.3"/>
<text x="379.90" y="999.30" font-size="8" fill="#333" stroke="#333" stroke-width="0.22" textLength="13.20" lengthAdjust="spacingAndGlyphs">Hits</text>
<line x1="398.10" y1="995.20" x2="403.90" y2="995.20" stroke="#c8c8c8" stroke-width="0.9"/>
<line x1="409.60" y1="997.00" x2="415.60" y2="997.00" stroke="#c8c8c8" stroke-width="0.9"/>
<text x="420.60" y="999.30" font-size="8" fill="#333" stroke="#333" stroke-width="0.22" textLength="73.80" lengthAdjust="spacingAndGlyphs">Ranking metric scores</text>
<rect x="0.75" y="0.75" width="518.5" height="1009.4" fill="none" stroke="#000" stroke-width="1.6"/>
</svg>
</body></html>
